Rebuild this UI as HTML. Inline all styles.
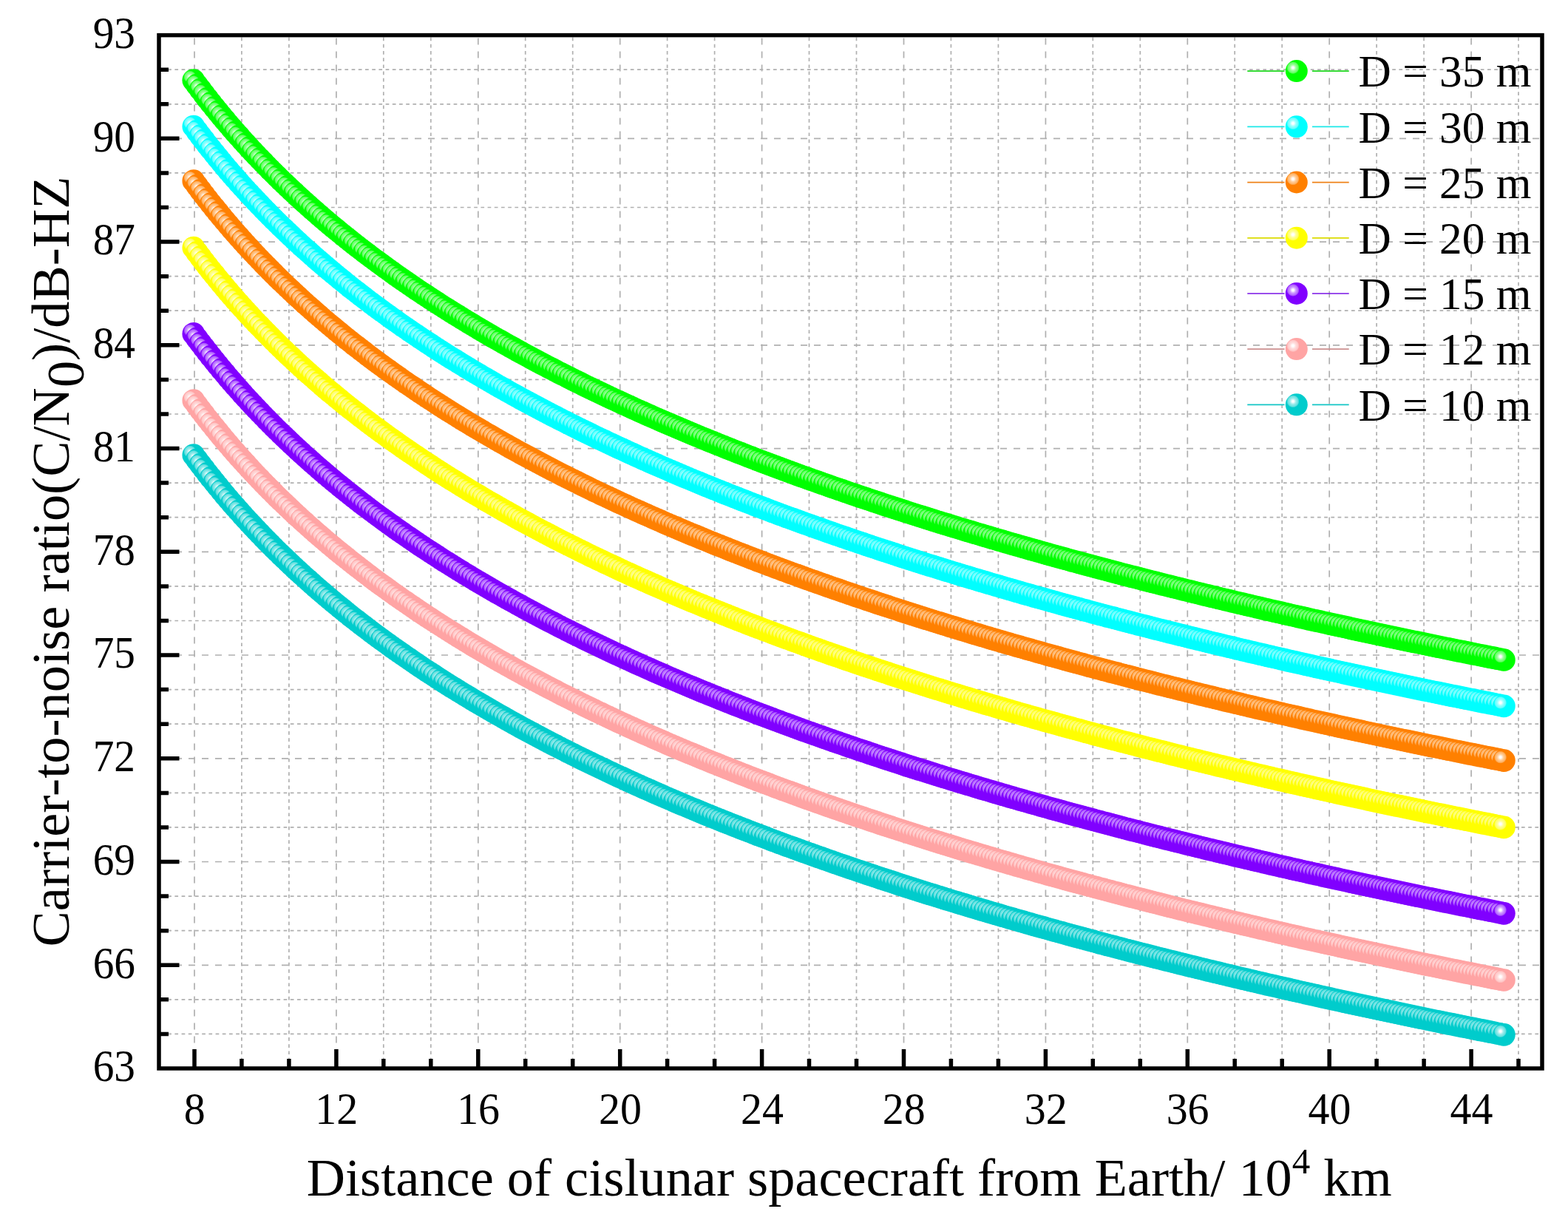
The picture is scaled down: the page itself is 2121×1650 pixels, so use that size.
<!DOCTYPE html>
<html lang="en"><head><meta charset="utf-8"><title>Carrier-to-noise ratio vs distance</title>
<style>html,body{margin:0;padding:0;background:#fff}body{width:2121px;height:1650px}svg{display:block}text{font-family:'Liberation Serif', serif;fill:#000}</style></head><body>
<svg width="2121" height="1650" viewBox="0 0 2121 1650">
<defs>
<radialGradient id="g0" gradientUnits="userSpaceOnUse" cx="-4.8" cy="-4.5" fx="-4.8" fy="-4.5" r="8.5"><stop offset="0" stop-color="#ffffff"/><stop offset="0.176" stop-color="#f7fff7"/><stop offset="0.294" stop-color="#d1ffd1"/><stop offset="0.471" stop-color="#9eff9e"/><stop offset="0.647" stop-color="#80ff80"/><stop offset="0.824" stop-color="#66ff66"/><stop offset="0.918" stop-color="#38ff38"/><stop offset="1" stop-color="#00ff00"/></radialGradient>
<circle id="m0" r="15.35" fill="url(#g0)"/>
<circle id="k0" r="15" fill="url(#g0)"/>
<radialGradient id="g1" gradientUnits="userSpaceOnUse" cx="-4.8" cy="-4.5" fx="-4.8" fy="-4.5" r="8.5"><stop offset="0" stop-color="#ffffff"/><stop offset="0.176" stop-color="#f7ffff"/><stop offset="0.294" stop-color="#d1ffff"/><stop offset="0.471" stop-color="#9effff"/><stop offset="0.647" stop-color="#80ffff"/><stop offset="0.824" stop-color="#66ffff"/><stop offset="0.918" stop-color="#38ffff"/><stop offset="1" stop-color="#00ffff"/></radialGradient>
<circle id="m1" r="15.35" fill="url(#g1)"/>
<circle id="k1" r="15" fill="url(#g1)"/>
<radialGradient id="g2" gradientUnits="userSpaceOnUse" cx="-4.8" cy="-4.5" fx="-4.8" fy="-4.5" r="8.5"><stop offset="0" stop-color="#ffffff"/><stop offset="0.176" stop-color="#fffbf7"/><stop offset="0.294" stop-color="#ffe8d1"/><stop offset="0.471" stop-color="#ffcf9e"/><stop offset="0.647" stop-color="#ffc080"/><stop offset="0.824" stop-color="#ffb366"/><stop offset="0.918" stop-color="#ff9c38"/><stop offset="1" stop-color="#ff8000"/></radialGradient>
<circle id="m2" r="15.35" fill="url(#g2)"/>
<circle id="k2" r="15" fill="url(#g2)"/>
<radialGradient id="g3" gradientUnits="userSpaceOnUse" cx="-4.8" cy="-4.5" fx="-4.8" fy="-4.5" r="8.5"><stop offset="0" stop-color="#ffffff"/><stop offset="0.176" stop-color="#fffff7"/><stop offset="0.294" stop-color="#ffffd1"/><stop offset="0.471" stop-color="#ffff9e"/><stop offset="0.647" stop-color="#ffff80"/><stop offset="0.824" stop-color="#ffff66"/><stop offset="0.918" stop-color="#ffff38"/><stop offset="1" stop-color="#ffff00"/></radialGradient>
<circle id="m3" r="15.35" fill="url(#g3)"/>
<circle id="k3" r="15" fill="url(#g3)"/>
<radialGradient id="g4" gradientUnits="userSpaceOnUse" cx="-4.8" cy="-4.5" fx="-4.8" fy="-4.5" r="8.5"><stop offset="0" stop-color="#ffffff"/><stop offset="0.176" stop-color="#fbf7ff"/><stop offset="0.294" stop-color="#e8d1ff"/><stop offset="0.471" stop-color="#cf9eff"/><stop offset="0.647" stop-color="#c080ff"/><stop offset="0.824" stop-color="#b366ff"/><stop offset="0.918" stop-color="#9c38ff"/><stop offset="1" stop-color="#8000ff"/></radialGradient>
<circle id="m4" r="15.35" fill="url(#g4)"/>
<circle id="k4" r="15" fill="url(#g4)"/>
<radialGradient id="g5" gradientUnits="userSpaceOnUse" cx="-4.8" cy="-4.5" fx="-4.8" fy="-4.5" r="8.5"><stop offset="0" stop-color="#ffffff"/><stop offset="0.176" stop-color="#fffcfc"/><stop offset="0.294" stop-color="#ffefef"/><stop offset="0.471" stop-color="#ffdcdc"/><stop offset="0.647" stop-color="#ffd2d2"/><stop offset="0.824" stop-color="#ffc8c8"/><stop offset="0.918" stop-color="#ffb8b8"/><stop offset="1" stop-color="#ffa4a4"/></radialGradient>
<circle id="m5" r="15.35" fill="url(#g5)"/>
<circle id="k5" r="15" fill="url(#g5)"/>
<radialGradient id="g6" gradientUnits="userSpaceOnUse" cx="-4.8" cy="-4.5" fx="-4.8" fy="-4.5" r="8.5"><stop offset="0" stop-color="#ffffff"/><stop offset="0.176" stop-color="#f7fdfd"/><stop offset="0.294" stop-color="#d1f6f6"/><stop offset="0.471" stop-color="#9eecec"/><stop offset="0.647" stop-color="#80e6e6"/><stop offset="0.824" stop-color="#66e0e0"/><stop offset="0.918" stop-color="#38d7d7"/><stop offset="1" stop-color="#00cccc"/></radialGradient>
<circle id="m6" r="15.35" fill="url(#g6)"/>
<circle id="k6" r="15" fill="url(#g6)"/>
</defs>
<rect width="2121" height="1650" fill="#fff"/>
<g stroke="#b0b0b0" stroke-width="1.7" fill="none">
<path stroke-dasharray="9 9" stroke-dashoffset="-4" d="M263 47.6V1445M454.9 47.6V1445M646.8 47.6V1445M838.7 47.6V1445M1030.6 47.6V1445M1222.5 47.6V1445M1414.4 47.6V1445M1606.3 47.6V1445M1798.2 47.6V1445M1990.1 47.6V1445M215 1305.3H2086M215 1165.5H2086M215 1025.8H2086M215 886H2086M215 746.3H2086M215 606.6H2086M215 466.8H2086M215 327.1H2086M215 187.3H2086"/>
<path stroke-dasharray="4.7 4.5" stroke-dashoffset="-3" d="M326.9 47.6V1445M390.9 47.6V1445M518.8 47.6V1445M582.8 47.6V1445M710.7 47.6V1445M774.7 47.6V1445M902.6 47.6V1445M966.6 47.6V1445M1094.5 47.6V1445M1158.5 47.6V1445M1286.4 47.6V1445M1350.4 47.6V1445M1478.3 47.6V1445M1542.3 47.6V1445M1670.2 47.6V1445M1734.2 47.6V1445M1862.1 47.6V1445M1926.1 47.6V1445M2054 47.6V1445M215 1398.4H2086M215 1351.8H2086M215 1258.7H2086M215 1212.1H2086M215 1118.9H2086M215 1072.4H2086M215 979.2H2086M215 932.6H2086M215 839.5H2086M215 792.9H2086M215 699.7H2086M215 653.1H2086M215 560H2086M215 513.4H2086M215 420.2H2086M215 373.7H2086M215 280.5H2086M215 233.9H2086M215 140.8H2086M215 94.2H2086"/>
</g>
<g>
<use href="#m0" x="261.8" y="108.6"/><use href="#m0" x="266.5" y="115"/><use href="#m0" x="271.2" y="121.2"/><use href="#m0" x="275.9" y="127.3"/><use href="#m0" x="280.6" y="133.4"/><use href="#m0" x="285.3" y="139.4"/><use href="#m0" x="290.1" y="145.3"/><use href="#m0" x="294.8" y="151.1"/><use href="#m0" x="299.5" y="156.8"/><use href="#m0" x="304.2" y="162.4"/><use href="#m0" x="308.9" y="168"/><use href="#m0" x="313.6" y="173.4"/><use href="#m0" x="318.3" y="178.9"/><use href="#m0" x="323.1" y="184.2"/><use href="#m0" x="327.8" y="189.5"/><use href="#m0" x="332.5" y="194.7"/><use href="#m0" x="337.2" y="199.8"/><use href="#m0" x="341.9" y="204.9"/><use href="#m0" x="346.6" y="209.9"/><use href="#m0" x="351.4" y="214.8"/><use href="#m0" x="356.1" y="219.7"/><use href="#m0" x="360.8" y="224.5"/><use href="#m0" x="365.5" y="229.3"/><use href="#m0" x="370.2" y="234"/><use href="#m0" x="374.9" y="238.7"/><use href="#m0" x="379.6" y="243.3"/><use href="#m0" x="384.4" y="247.8"/><use href="#m0" x="389.1" y="252.4"/><use href="#m0" x="393.8" y="256.8"/><use href="#m0" x="398.5" y="261.2"/><use href="#m0" x="403.2" y="265.6"/><use href="#m0" x="407.9" y="269.9"/><use href="#m0" x="412.6" y="274.2"/><use href="#m0" x="417.4" y="278.4"/><use href="#m0" x="422.1" y="282.6"/><use href="#m0" x="426.8" y="286.7"/><use href="#m0" x="431.5" y="290.8"/><use href="#m0" x="436.2" y="294.8"/><use href="#m0" x="440.9" y="298.9"/><use href="#m0" x="445.6" y="302.8"/><use href="#m0" x="450.4" y="306.8"/><use href="#m0" x="455.1" y="310.7"/><use href="#m0" x="459.8" y="314.5"/><use href="#m0" x="464.5" y="318.4"/><use href="#m0" x="469.2" y="322.1"/><use href="#m0" x="473.9" y="325.9"/><use href="#m0" x="478.6" y="329.6"/><use href="#m0" x="483.4" y="333.3"/><use href="#m0" x="488.1" y="337"/><use href="#m0" x="492.8" y="340.6"/><use href="#m0" x="497.5" y="344.2"/><use href="#m0" x="502.2" y="347.7"/><use href="#m0" x="506.9" y="351.2"/><use href="#m0" x="511.6" y="354.7"/><use href="#m0" x="516.4" y="358.2"/><use href="#m0" x="521.1" y="361.6"/><use href="#m0" x="525.8" y="365"/><use href="#m0" x="530.5" y="368.4"/><use href="#m0" x="535.2" y="371.8"/><use href="#m0" x="539.9" y="375.1"/><use href="#m0" x="544.6" y="378.4"/><use href="#m0" x="549.4" y="381.7"/><use href="#m0" x="554.1" y="384.9"/><use href="#m0" x="558.8" y="388.1"/><use href="#m0" x="563.5" y="391.3"/><use href="#m0" x="568.2" y="394.5"/><use href="#m0" x="572.9" y="397.6"/><use href="#m0" x="577.6" y="400.7"/><use href="#m0" x="582.4" y="403.8"/><use href="#m0" x="587.1" y="406.9"/><use href="#m0" x="591.8" y="409.9"/><use href="#m0" x="596.5" y="413"/><use href="#m0" x="601.2" y="416"/><use href="#m0" x="605.9" y="418.9"/><use href="#m0" x="610.6" y="421.9"/><use href="#m0" x="615.4" y="424.8"/><use href="#m0" x="620.1" y="427.7"/><use href="#m0" x="624.8" y="430.6"/><use href="#m0" x="629.5" y="433.5"/><use href="#m0" x="634.2" y="436.4"/><use href="#m0" x="638.9" y="439.2"/><use href="#m0" x="643.6" y="442"/><use href="#m0" x="648.4" y="444.8"/><use href="#m0" x="653.1" y="447.6"/><use href="#m0" x="657.8" y="450.3"/><use href="#m0" x="662.5" y="453.1"/><use href="#m0" x="667.2" y="455.8"/><use href="#m0" x="671.9" y="458.5"/><use href="#m0" x="676.7" y="461.2"/><use href="#m0" x="681.4" y="463.8"/><use href="#m0" x="686.1" y="466.5"/><use href="#m0" x="690.8" y="469.1"/><use href="#m0" x="695.5" y="471.7"/><use href="#m0" x="700.2" y="474.3"/><use href="#m0" x="704.9" y="476.9"/><use href="#m0" x="709.7" y="479.5"/><use href="#m0" x="714.4" y="482"/><use href="#m0" x="719.1" y="484.6"/><use href="#m0" x="723.8" y="487.1"/><use href="#m0" x="728.5" y="489.6"/><use href="#m0" x="733.2" y="492.1"/><use href="#m0" x="737.9" y="494.5"/><use href="#m0" x="742.7" y="497"/><use href="#m0" x="747.4" y="499.4"/><use href="#m0" x="752.1" y="501.9"/><use href="#m0" x="756.8" y="504.3"/><use href="#m0" x="761.5" y="506.7"/><use href="#m0" x="766.2" y="509"/><use href="#m0" x="770.9" y="511.4"/><use href="#m0" x="775.7" y="513.8"/><use href="#m0" x="780.4" y="516.1"/><use href="#m0" x="785.1" y="518.4"/><use href="#m0" x="789.8" y="520.8"/><use href="#m0" x="794.5" y="523.1"/><use href="#m0" x="799.2" y="525.3"/><use href="#m0" x="803.9" y="527.6"/><use href="#m0" x="808.7" y="529.9"/><use href="#m0" x="813.4" y="532.1"/><use href="#m0" x="818.1" y="534.4"/><use href="#m0" x="822.8" y="536.6"/><use href="#m0" x="827.5" y="538.8"/><use href="#m0" x="832.2" y="541"/><use href="#m0" x="836.9" y="543.2"/><use href="#m0" x="841.7" y="545.4"/><use href="#m0" x="846.4" y="547.5"/><use href="#m0" x="851.1" y="549.7"/><use href="#m0" x="855.8" y="551.8"/><use href="#m0" x="860.5" y="554"/><use href="#m0" x="865.2" y="556.1"/><use href="#m0" x="869.9" y="558.2"/><use href="#m0" x="874.7" y="560.3"/><use href="#m0" x="879.4" y="562.4"/><use href="#m0" x="884.1" y="564.5"/><use href="#m0" x="888.8" y="566.5"/><use href="#m0" x="893.5" y="568.6"/><use href="#m0" x="898.2" y="570.6"/><use href="#m0" x="902.9" y="572.7"/><use href="#m0" x="907.7" y="574.7"/><use href="#m0" x="912.4" y="576.7"/><use href="#m0" x="917.1" y="578.7"/><use href="#m0" x="921.8" y="580.7"/><use href="#m0" x="926.5" y="582.7"/><use href="#m0" x="931.2" y="584.7"/><use href="#m0" x="935.9" y="586.6"/><use href="#m0" x="940.7" y="588.6"/><use href="#m0" x="945.4" y="590.5"/><use href="#m0" x="950.1" y="592.5"/><use href="#m0" x="954.8" y="594.4"/><use href="#m0" x="959.5" y="596.3"/><use href="#m0" x="964.2" y="598.2"/><use href="#m0" x="969" y="600.1"/><use href="#m0" x="973.7" y="602"/><use href="#m0" x="978.4" y="603.9"/><use href="#m0" x="983.1" y="605.8"/><use href="#m0" x="987.8" y="607.7"/><use href="#m0" x="992.5" y="609.5"/><use href="#m0" x="997.2" y="611.4"/><use href="#m0" x="1002" y="613.2"/><use href="#m0" x="1006.7" y="615"/><use href="#m0" x="1011.4" y="616.9"/><use href="#m0" x="1016.1" y="618.7"/><use href="#m0" x="1020.8" y="620.5"/><use href="#m0" x="1025.5" y="622.3"/><use href="#m0" x="1030.2" y="624.1"/><use href="#m0" x="1035" y="625.9"/><use href="#m0" x="1039.7" y="627.6"/><use href="#m0" x="1044.4" y="629.4"/><use href="#m0" x="1049.1" y="631.2"/><use href="#m0" x="1053.8" y="632.9"/><use href="#m0" x="1058.5" y="634.7"/><use href="#m0" x="1063.2" y="636.4"/><use href="#m0" x="1068" y="638.1"/><use href="#m0" x="1072.7" y="639.9"/><use href="#m0" x="1077.4" y="641.6"/><use href="#m0" x="1082.1" y="643.3"/><use href="#m0" x="1086.8" y="645"/><use href="#m0" x="1091.5" y="646.7"/><use href="#m0" x="1096.2" y="648.4"/><use href="#m0" x="1101" y="650"/><use href="#m0" x="1105.7" y="651.7"/><use href="#m0" x="1110.4" y="653.4"/><use href="#m0" x="1115.1" y="655"/><use href="#m0" x="1119.8" y="656.7"/><use href="#m0" x="1124.5" y="658.3"/><use href="#m0" x="1129.2" y="660"/><use href="#m0" x="1134" y="661.6"/><use href="#m0" x="1138.7" y="663.2"/><use href="#m0" x="1143.4" y="664.9"/><use href="#m0" x="1148.1" y="666.5"/><use href="#m0" x="1152.8" y="668.1"/><use href="#m0" x="1157.5" y="669.7"/><use href="#m0" x="1162.2" y="671.3"/><use href="#m0" x="1167" y="672.9"/><use href="#m0" x="1171.7" y="674.4"/><use href="#m0" x="1176.4" y="676"/><use href="#m0" x="1181.1" y="677.6"/><use href="#m0" x="1185.8" y="679.1"/><use href="#m0" x="1190.5" y="680.7"/><use href="#m0" x="1195.2" y="682.3"/><use href="#m0" x="1200" y="683.8"/><use href="#m0" x="1204.7" y="685.3"/><use href="#m0" x="1209.4" y="686.9"/><use href="#m0" x="1214.1" y="688.4"/><use href="#m0" x="1218.8" y="689.9"/><use href="#m0" x="1223.5" y="691.4"/><use href="#m0" x="1228.2" y="693"/><use href="#m0" x="1233" y="694.5"/><use href="#m0" x="1237.7" y="696"/><use href="#m0" x="1242.4" y="697.5"/><use href="#m0" x="1247.1" y="698.9"/><use href="#m0" x="1251.8" y="700.4"/><use href="#m0" x="1256.5" y="701.9"/><use href="#m0" x="1261.2" y="703.4"/><use href="#m0" x="1266" y="704.8"/><use href="#m0" x="1270.7" y="706.3"/><use href="#m0" x="1275.4" y="707.8"/><use href="#m0" x="1280.1" y="709.2"/><use href="#m0" x="1284.8" y="710.7"/><use href="#m0" x="1289.5" y="712.1"/><use href="#m0" x="1294.3" y="713.5"/><use href="#m0" x="1299" y="715"/><use href="#m0" x="1303.7" y="716.4"/><use href="#m0" x="1308.4" y="717.8"/><use href="#m0" x="1313.1" y="719.2"/><use href="#m0" x="1317.8" y="720.6"/><use href="#m0" x="1322.5" y="722"/><use href="#m0" x="1327.3" y="723.4"/><use href="#m0" x="1332" y="724.8"/><use href="#m0" x="1336.7" y="726.2"/><use href="#m0" x="1341.4" y="727.6"/><use href="#m0" x="1346.1" y="729"/><use href="#m0" x="1350.8" y="730.4"/><use href="#m0" x="1355.5" y="731.7"/><use href="#m0" x="1360.3" y="733.1"/><use href="#m0" x="1365" y="734.5"/><use href="#m0" x="1369.7" y="735.8"/><use href="#m0" x="1374.4" y="737.2"/><use href="#m0" x="1379.1" y="738.5"/><use href="#m0" x="1383.8" y="739.9"/><use href="#m0" x="1388.5" y="741.2"/><use href="#m0" x="1393.3" y="742.6"/><use href="#m0" x="1398" y="743.9"/><use href="#m0" x="1402.7" y="745.2"/><use href="#m0" x="1407.4" y="746.5"/><use href="#m0" x="1412.1" y="747.9"/><use href="#m0" x="1416.8" y="749.2"/><use href="#m0" x="1421.5" y="750.5"/><use href="#m0" x="1426.3" y="751.8"/><use href="#m0" x="1431" y="753.1"/><use href="#m0" x="1435.7" y="754.4"/><use href="#m0" x="1440.4" y="755.7"/><use href="#m0" x="1445.1" y="757"/><use href="#m0" x="1449.8" y="758.3"/><use href="#m0" x="1454.5" y="759.5"/><use href="#m0" x="1459.3" y="760.8"/><use href="#m0" x="1464" y="762.1"/><use href="#m0" x="1468.7" y="763.4"/><use href="#m0" x="1473.4" y="764.6"/><use href="#m0" x="1478.1" y="765.9"/><use href="#m0" x="1482.8" y="767.1"/><use href="#m0" x="1487.5" y="768.4"/><use href="#m0" x="1492.3" y="769.7"/><use href="#m0" x="1497" y="770.9"/><use href="#m0" x="1501.7" y="772.1"/><use href="#m0" x="1506.4" y="773.4"/><use href="#m0" x="1511.1" y="774.6"/><use href="#m0" x="1515.8" y="775.8"/><use href="#m0" x="1520.5" y="777.1"/><use href="#m0" x="1525.3" y="778.3"/><use href="#m0" x="1530" y="779.5"/><use href="#m0" x="1534.7" y="780.7"/><use href="#m0" x="1539.4" y="781.9"/><use href="#m0" x="1544.1" y="783.1"/><use href="#m0" x="1548.8" y="784.4"/><use href="#m0" x="1553.5" y="785.6"/><use href="#m0" x="1558.3" y="786.8"/><use href="#m0" x="1563" y="787.9"/><use href="#m0" x="1567.7" y="789.1"/><use href="#m0" x="1572.4" y="790.3"/><use href="#m0" x="1577.1" y="791.5"/><use href="#m0" x="1581.8" y="792.7"/><use href="#m0" x="1586.5" y="793.9"/><use href="#m0" x="1591.3" y="795"/><use href="#m0" x="1596" y="796.2"/><use href="#m0" x="1600.7" y="797.4"/><use href="#m0" x="1605.4" y="798.5"/><use href="#m0" x="1610.1" y="799.7"/><use href="#m0" x="1614.8" y="800.9"/><use href="#m0" x="1619.6" y="802"/><use href="#m0" x="1624.3" y="803.2"/><use href="#m0" x="1629" y="804.3"/><use href="#m0" x="1633.7" y="805.4"/><use href="#m0" x="1638.4" y="806.6"/><use href="#m0" x="1643.1" y="807.7"/><use href="#m0" x="1647.8" y="808.9"/><use href="#m0" x="1652.6" y="810"/><use href="#m0" x="1657.3" y="811.1"/><use href="#m0" x="1662" y="812.2"/><use href="#m0" x="1666.7" y="813.4"/><use href="#m0" x="1671.4" y="814.5"/><use href="#m0" x="1676.1" y="815.6"/><use href="#m0" x="1680.8" y="816.7"/><use href="#m0" x="1685.6" y="817.8"/><use href="#m0" x="1690.3" y="818.9"/><use href="#m0" x="1695" y="820"/><use href="#m0" x="1699.7" y="821.1"/><use href="#m0" x="1704.4" y="822.2"/><use href="#m0" x="1709.1" y="823.3"/><use href="#m0" x="1713.8" y="824.4"/><use href="#m0" x="1718.6" y="825.5"/><use href="#m0" x="1723.3" y="826.6"/><use href="#m0" x="1728" y="827.7"/><use href="#m0" x="1732.7" y="828.7"/><use href="#m0" x="1737.4" y="829.8"/><use href="#m0" x="1742.1" y="830.9"/><use href="#m0" x="1746.8" y="832"/><use href="#m0" x="1751.6" y="833"/><use href="#m0" x="1756.3" y="834.1"/><use href="#m0" x="1761" y="835.2"/><use href="#m0" x="1765.7" y="836.2"/><use href="#m0" x="1770.4" y="837.3"/><use href="#m0" x="1775.1" y="838.3"/><use href="#m0" x="1779.8" y="839.4"/><use href="#m0" x="1784.6" y="840.4"/><use href="#m0" x="1789.3" y="841.5"/><use href="#m0" x="1794" y="842.5"/><use href="#m0" x="1798.7" y="843.6"/><use href="#m0" x="1803.4" y="844.6"/><use href="#m0" x="1808.1" y="845.6"/><use href="#m0" x="1812.8" y="846.7"/><use href="#m0" x="1817.6" y="847.7"/><use href="#m0" x="1822.3" y="848.7"/><use href="#m0" x="1827" y="849.8"/><use href="#m0" x="1831.7" y="850.8"/><use href="#m0" x="1836.4" y="851.8"/><use href="#m0" x="1841.1" y="852.8"/><use href="#m0" x="1845.8" y="853.8"/><use href="#m0" x="1850.6" y="854.8"/><use href="#m0" x="1855.3" y="855.8"/><use href="#m0" x="1860" y="856.9"/><use href="#m0" x="1864.7" y="857.9"/><use href="#m0" x="1869.4" y="858.9"/><use href="#m0" x="1874.1" y="859.9"/><use href="#m0" x="1878.8" y="860.9"/><use href="#m0" x="1883.6" y="861.9"/><use href="#m0" x="1888.3" y="862.8"/><use href="#m0" x="1893" y="863.8"/><use href="#m0" x="1897.7" y="864.8"/><use href="#m0" x="1902.4" y="865.8"/><use href="#m0" x="1907.1" y="866.8"/><use href="#m0" x="1911.9" y="867.8"/><use href="#m0" x="1916.6" y="868.7"/><use href="#m0" x="1921.3" y="869.7"/><use href="#m0" x="1926" y="870.7"/><use href="#m0" x="1930.7" y="871.7"/><use href="#m0" x="1935.4" y="872.6"/><use href="#m0" x="1940.1" y="873.6"/><use href="#m0" x="1944.9" y="874.6"/><use href="#m0" x="1949.6" y="875.5"/><use href="#m0" x="1954.3" y="876.5"/><use href="#m0" x="1959" y="877.4"/><use href="#m0" x="1963.7" y="878.4"/><use href="#m0" x="1968.4" y="879.3"/><use href="#m0" x="1973.1" y="880.3"/><use href="#m0" x="1977.9" y="881.2"/><use href="#m0" x="1982.6" y="882.2"/><use href="#m0" x="1987.3" y="883.1"/><use href="#m0" x="1992" y="884.1"/><use href="#m0" x="1996.7" y="885"/><use href="#m0" x="2001.4" y="886"/><use href="#m0" x="2006.1" y="886.9"/><use href="#m0" x="2010.9" y="887.8"/><use href="#m0" x="2015.6" y="888.8"/><use href="#m0" x="2020.3" y="889.7"/><use href="#m0" x="2025" y="890.6"/><use href="#m0" x="2029.7" y="891.5"/><use href="#m0" x="2034.4" y="892.5"/>
</g>
<g>
<use href="#m1" x="261.8" y="171"/><use href="#m1" x="266.5" y="177.3"/><use href="#m1" x="271.2" y="183.6"/><use href="#m1" x="275.9" y="189.7"/><use href="#m1" x="280.6" y="195.8"/><use href="#m1" x="285.3" y="201.7"/><use href="#m1" x="290.1" y="207.6"/><use href="#m1" x="294.8" y="213.4"/><use href="#m1" x="299.5" y="219.1"/><use href="#m1" x="304.2" y="224.8"/><use href="#m1" x="308.9" y="230.3"/><use href="#m1" x="313.6" y="235.8"/><use href="#m1" x="318.3" y="241.2"/><use href="#m1" x="323.1" y="246.6"/><use href="#m1" x="327.8" y="251.8"/><use href="#m1" x="332.5" y="257"/><use href="#m1" x="337.2" y="262.2"/><use href="#m1" x="341.9" y="267.2"/><use href="#m1" x="346.6" y="272.2"/><use href="#m1" x="351.4" y="277.2"/><use href="#m1" x="356.1" y="282.1"/><use href="#m1" x="360.8" y="286.9"/><use href="#m1" x="365.5" y="291.7"/><use href="#m1" x="370.2" y="296.4"/><use href="#m1" x="374.9" y="301"/><use href="#m1" x="379.6" y="305.7"/><use href="#m1" x="384.4" y="310.2"/><use href="#m1" x="389.1" y="314.7"/><use href="#m1" x="393.8" y="319.2"/><use href="#m1" x="398.5" y="323.6"/><use href="#m1" x="403.2" y="327.9"/><use href="#m1" x="407.9" y="332.3"/><use href="#m1" x="412.6" y="336.5"/><use href="#m1" x="417.4" y="340.7"/><use href="#m1" x="422.1" y="344.9"/><use href="#m1" x="426.8" y="349.1"/><use href="#m1" x="431.5" y="353.2"/><use href="#m1" x="436.2" y="357.2"/><use href="#m1" x="440.9" y="361.2"/><use href="#m1" x="445.6" y="365.2"/><use href="#m1" x="450.4" y="369.1"/><use href="#m1" x="455.1" y="373"/><use href="#m1" x="459.8" y="376.9"/><use href="#m1" x="464.5" y="380.7"/><use href="#m1" x="469.2" y="384.5"/><use href="#m1" x="473.9" y="388.3"/><use href="#m1" x="478.6" y="392"/><use href="#m1" x="483.4" y="395.7"/><use href="#m1" x="488.1" y="399.3"/><use href="#m1" x="492.8" y="402.9"/><use href="#m1" x="497.5" y="406.5"/><use href="#m1" x="502.2" y="410.1"/><use href="#m1" x="506.9" y="413.6"/><use href="#m1" x="511.6" y="417.1"/><use href="#m1" x="516.4" y="420.6"/><use href="#m1" x="521.1" y="424"/><use href="#m1" x="525.8" y="427.4"/><use href="#m1" x="530.5" y="430.8"/><use href="#m1" x="535.2" y="434.1"/><use href="#m1" x="539.9" y="437.5"/><use href="#m1" x="544.6" y="440.8"/><use href="#m1" x="549.4" y="444"/><use href="#m1" x="554.1" y="447.3"/><use href="#m1" x="558.8" y="450.5"/><use href="#m1" x="563.5" y="453.7"/><use href="#m1" x="568.2" y="456.8"/><use href="#m1" x="572.9" y="460"/><use href="#m1" x="577.6" y="463.1"/><use href="#m1" x="582.4" y="466.2"/><use href="#m1" x="587.1" y="469.3"/><use href="#m1" x="591.8" y="472.3"/><use href="#m1" x="596.5" y="475.3"/><use href="#m1" x="601.2" y="478.3"/><use href="#m1" x="605.9" y="481.3"/><use href="#m1" x="610.6" y="484.3"/><use href="#m1" x="615.4" y="487.2"/><use href="#m1" x="620.1" y="490.1"/><use href="#m1" x="624.8" y="493"/><use href="#m1" x="629.5" y="495.9"/><use href="#m1" x="634.2" y="498.7"/><use href="#m1" x="638.9" y="501.6"/><use href="#m1" x="643.6" y="504.4"/><use href="#m1" x="648.4" y="507.2"/><use href="#m1" x="653.1" y="510"/><use href="#m1" x="657.8" y="512.7"/><use href="#m1" x="662.5" y="515.4"/><use href="#m1" x="667.2" y="518.2"/><use href="#m1" x="671.9" y="520.9"/><use href="#m1" x="676.7" y="523.6"/><use href="#m1" x="681.4" y="526.2"/><use href="#m1" x="686.1" y="528.9"/><use href="#m1" x="690.8" y="531.5"/><use href="#m1" x="695.5" y="534.1"/><use href="#m1" x="700.2" y="536.7"/><use href="#m1" x="704.9" y="539.3"/><use href="#m1" x="709.7" y="541.8"/><use href="#m1" x="714.4" y="544.4"/><use href="#m1" x="719.1" y="546.9"/><use href="#m1" x="723.8" y="549.4"/><use href="#m1" x="728.5" y="551.9"/><use href="#m1" x="733.2" y="554.4"/><use href="#m1" x="737.9" y="556.9"/><use href="#m1" x="742.7" y="559.4"/><use href="#m1" x="747.4" y="561.8"/><use href="#m1" x="752.1" y="564.2"/><use href="#m1" x="756.8" y="566.6"/><use href="#m1" x="761.5" y="569"/><use href="#m1" x="766.2" y="571.4"/><use href="#m1" x="770.9" y="573.8"/><use href="#m1" x="775.7" y="576.1"/><use href="#m1" x="780.4" y="578.5"/><use href="#m1" x="785.1" y="580.8"/><use href="#m1" x="789.8" y="583.1"/><use href="#m1" x="794.5" y="585.4"/><use href="#m1" x="799.2" y="587.7"/><use href="#m1" x="803.9" y="590"/><use href="#m1" x="808.7" y="592.3"/><use href="#m1" x="813.4" y="594.5"/><use href="#m1" x="818.1" y="596.7"/><use href="#m1" x="822.8" y="599"/><use href="#m1" x="827.5" y="601.2"/><use href="#m1" x="832.2" y="603.4"/><use href="#m1" x="836.9" y="605.6"/><use href="#m1" x="841.7" y="607.7"/><use href="#m1" x="846.4" y="609.9"/><use href="#m1" x="851.1" y="612.1"/><use href="#m1" x="855.8" y="614.2"/><use href="#m1" x="860.5" y="616.3"/><use href="#m1" x="865.2" y="618.5"/><use href="#m1" x="869.9" y="620.6"/><use href="#m1" x="874.7" y="622.7"/><use href="#m1" x="879.4" y="624.8"/><use href="#m1" x="884.1" y="626.8"/><use href="#m1" x="888.8" y="628.9"/><use href="#m1" x="893.5" y="631"/><use href="#m1" x="898.2" y="633"/><use href="#m1" x="902.9" y="635"/><use href="#m1" x="907.7" y="637.1"/><use href="#m1" x="912.4" y="639.1"/><use href="#m1" x="917.1" y="641.1"/><use href="#m1" x="921.8" y="643.1"/><use href="#m1" x="926.5" y="645.1"/><use href="#m1" x="931.2" y="647"/><use href="#m1" x="935.9" y="649"/><use href="#m1" x="940.7" y="651"/><use href="#m1" x="945.4" y="652.9"/><use href="#m1" x="950.1" y="654.8"/><use href="#m1" x="954.8" y="656.8"/><use href="#m1" x="959.5" y="658.7"/><use href="#m1" x="964.2" y="660.6"/><use href="#m1" x="969" y="662.5"/><use href="#m1" x="973.7" y="664.4"/><use href="#m1" x="978.4" y="666.3"/><use href="#m1" x="983.1" y="668.2"/><use href="#m1" x="987.8" y="670"/><use href="#m1" x="992.5" y="671.9"/><use href="#m1" x="997.2" y="673.7"/><use href="#m1" x="1002" y="675.6"/><use href="#m1" x="1006.7" y="677.4"/><use href="#m1" x="1011.4" y="679.2"/><use href="#m1" x="1016.1" y="681"/><use href="#m1" x="1020.8" y="682.9"/><use href="#m1" x="1025.5" y="684.6"/><use href="#m1" x="1030.2" y="686.4"/><use href="#m1" x="1035" y="688.2"/><use href="#m1" x="1039.7" y="690"/><use href="#m1" x="1044.4" y="691.8"/><use href="#m1" x="1049.1" y="693.5"/><use href="#m1" x="1053.8" y="695.3"/><use href="#m1" x="1058.5" y="697"/><use href="#m1" x="1063.2" y="698.8"/><use href="#m1" x="1068" y="700.5"/><use href="#m1" x="1072.7" y="702.2"/><use href="#m1" x="1077.4" y="703.9"/><use href="#m1" x="1082.1" y="705.6"/><use href="#m1" x="1086.8" y="707.3"/><use href="#m1" x="1091.5" y="709"/><use href="#m1" x="1096.2" y="710.7"/><use href="#m1" x="1101" y="712.4"/><use href="#m1" x="1105.7" y="714.1"/><use href="#m1" x="1110.4" y="715.7"/><use href="#m1" x="1115.1" y="717.4"/><use href="#m1" x="1119.8" y="719.1"/><use href="#m1" x="1124.5" y="720.7"/><use href="#m1" x="1129.2" y="722.3"/><use href="#m1" x="1134" y="724"/><use href="#m1" x="1138.7" y="725.6"/><use href="#m1" x="1143.4" y="727.2"/><use href="#m1" x="1148.1" y="728.8"/><use href="#m1" x="1152.8" y="730.4"/><use href="#m1" x="1157.5" y="732"/><use href="#m1" x="1162.2" y="733.6"/><use href="#m1" x="1167" y="735.2"/><use href="#m1" x="1171.7" y="736.8"/><use href="#m1" x="1176.4" y="738.4"/><use href="#m1" x="1181.1" y="740"/><use href="#m1" x="1185.8" y="741.5"/><use href="#m1" x="1190.5" y="743.1"/><use href="#m1" x="1195.2" y="744.6"/><use href="#m1" x="1200" y="746.2"/><use href="#m1" x="1204.7" y="747.7"/><use href="#m1" x="1209.4" y="749.2"/><use href="#m1" x="1214.1" y="750.8"/><use href="#m1" x="1218.8" y="752.3"/><use href="#m1" x="1223.5" y="753.8"/><use href="#m1" x="1228.2" y="755.3"/><use href="#m1" x="1233" y="756.8"/><use href="#m1" x="1237.7" y="758.3"/><use href="#m1" x="1242.4" y="759.8"/><use href="#m1" x="1247.1" y="761.3"/><use href="#m1" x="1251.8" y="762.8"/><use href="#m1" x="1256.5" y="764.3"/><use href="#m1" x="1261.2" y="765.7"/><use href="#m1" x="1266" y="767.2"/><use href="#m1" x="1270.7" y="768.7"/><use href="#m1" x="1275.4" y="770.1"/><use href="#m1" x="1280.1" y="771.6"/><use href="#m1" x="1284.8" y="773"/><use href="#m1" x="1289.5" y="774.5"/><use href="#m1" x="1294.3" y="775.9"/><use href="#m1" x="1299" y="777.3"/><use href="#m1" x="1303.7" y="778.8"/><use href="#m1" x="1308.4" y="780.2"/><use href="#m1" x="1313.1" y="781.6"/><use href="#m1" x="1317.8" y="783"/><use href="#m1" x="1322.5" y="784.4"/><use href="#m1" x="1327.3" y="785.8"/><use href="#m1" x="1332" y="787.2"/><use href="#m1" x="1336.7" y="788.6"/><use href="#m1" x="1341.4" y="790"/><use href="#m1" x="1346.1" y="791.4"/><use href="#m1" x="1350.8" y="792.7"/><use href="#m1" x="1355.5" y="794.1"/><use href="#m1" x="1360.3" y="795.5"/><use href="#m1" x="1365" y="796.8"/><use href="#m1" x="1369.7" y="798.2"/><use href="#m1" x="1374.4" y="799.6"/><use href="#m1" x="1379.1" y="800.9"/><use href="#m1" x="1383.8" y="802.3"/><use href="#m1" x="1388.5" y="803.6"/><use href="#m1" x="1393.3" y="804.9"/><use href="#m1" x="1398" y="806.3"/><use href="#m1" x="1402.7" y="807.6"/><use href="#m1" x="1407.4" y="808.9"/><use href="#m1" x="1412.1" y="810.2"/><use href="#m1" x="1416.8" y="811.5"/><use href="#m1" x="1421.5" y="812.9"/><use href="#m1" x="1426.3" y="814.2"/><use href="#m1" x="1431" y="815.5"/><use href="#m1" x="1435.7" y="816.8"/><use href="#m1" x="1440.4" y="818.1"/><use href="#m1" x="1445.1" y="819.3"/><use href="#m1" x="1449.8" y="820.6"/><use href="#m1" x="1454.5" y="821.9"/><use href="#m1" x="1459.3" y="823.2"/><use href="#m1" x="1464" y="824.5"/><use href="#m1" x="1468.7" y="825.7"/><use href="#m1" x="1473.4" y="827"/><use href="#m1" x="1478.1" y="828.3"/><use href="#m1" x="1482.8" y="829.5"/><use href="#m1" x="1487.5" y="830.8"/><use href="#m1" x="1492.3" y="832"/><use href="#m1" x="1497" y="833.3"/><use href="#m1" x="1501.7" y="834.5"/><use href="#m1" x="1506.4" y="835.7"/><use href="#m1" x="1511.1" y="837"/><use href="#m1" x="1515.8" y="838.2"/><use href="#m1" x="1520.5" y="839.4"/><use href="#m1" x="1525.3" y="840.7"/><use href="#m1" x="1530" y="841.9"/><use href="#m1" x="1534.7" y="843.1"/><use href="#m1" x="1539.4" y="844.3"/><use href="#m1" x="1544.1" y="845.5"/><use href="#m1" x="1548.8" y="846.7"/><use href="#m1" x="1553.5" y="847.9"/><use href="#m1" x="1558.3" y="849.1"/><use href="#m1" x="1563" y="850.3"/><use href="#m1" x="1567.7" y="851.5"/><use href="#m1" x="1572.4" y="852.7"/><use href="#m1" x="1577.1" y="853.9"/><use href="#m1" x="1581.8" y="855.1"/><use href="#m1" x="1586.5" y="856.2"/><use href="#m1" x="1591.3" y="857.4"/><use href="#m1" x="1596" y="858.6"/><use href="#m1" x="1600.7" y="859.7"/><use href="#m1" x="1605.4" y="860.9"/><use href="#m1" x="1610.1" y="862.1"/><use href="#m1" x="1614.8" y="863.2"/><use href="#m1" x="1619.6" y="864.4"/><use href="#m1" x="1624.3" y="865.5"/><use href="#m1" x="1629" y="866.7"/><use href="#m1" x="1633.7" y="867.8"/><use href="#m1" x="1638.4" y="869"/><use href="#m1" x="1643.1" y="870.1"/><use href="#m1" x="1647.8" y="871.2"/><use href="#m1" x="1652.6" y="872.4"/><use href="#m1" x="1657.3" y="873.5"/><use href="#m1" x="1662" y="874.6"/><use href="#m1" x="1666.7" y="875.7"/><use href="#m1" x="1671.4" y="876.8"/><use href="#m1" x="1676.1" y="878"/><use href="#m1" x="1680.8" y="879.1"/><use href="#m1" x="1685.6" y="880.2"/><use href="#m1" x="1690.3" y="881.3"/><use href="#m1" x="1695" y="882.4"/><use href="#m1" x="1699.7" y="883.5"/><use href="#m1" x="1704.4" y="884.6"/><use href="#m1" x="1709.1" y="885.7"/><use href="#m1" x="1713.8" y="886.8"/><use href="#m1" x="1718.6" y="887.9"/><use href="#m1" x="1723.3" y="889"/><use href="#m1" x="1728" y="890"/><use href="#m1" x="1732.7" y="891.1"/><use href="#m1" x="1737.4" y="892.2"/><use href="#m1" x="1742.1" y="893.3"/><use href="#m1" x="1746.8" y="894.3"/><use href="#m1" x="1751.6" y="895.4"/><use href="#m1" x="1756.3" y="896.5"/><use href="#m1" x="1761" y="897.5"/><use href="#m1" x="1765.7" y="898.6"/><use href="#m1" x="1770.4" y="899.6"/><use href="#m1" x="1775.1" y="900.7"/><use href="#m1" x="1779.8" y="901.8"/><use href="#m1" x="1784.6" y="902.8"/><use href="#m1" x="1789.3" y="903.8"/><use href="#m1" x="1794" y="904.9"/><use href="#m1" x="1798.7" y="905.9"/><use href="#m1" x="1803.4" y="907"/><use href="#m1" x="1808.1" y="908"/><use href="#m1" x="1812.8" y="909"/><use href="#m1" x="1817.6" y="910.1"/><use href="#m1" x="1822.3" y="911.1"/><use href="#m1" x="1827" y="912.1"/><use href="#m1" x="1831.7" y="913.1"/><use href="#m1" x="1836.4" y="914.2"/><use href="#m1" x="1841.1" y="915.2"/><use href="#m1" x="1845.8" y="916.2"/><use href="#m1" x="1850.6" y="917.2"/><use href="#m1" x="1855.3" y="918.2"/><use href="#m1" x="1860" y="919.2"/><use href="#m1" x="1864.7" y="920.2"/><use href="#m1" x="1869.4" y="921.2"/><use href="#m1" x="1874.1" y="922.2"/><use href="#m1" x="1878.8" y="923.2"/><use href="#m1" x="1883.6" y="924.2"/><use href="#m1" x="1888.3" y="925.2"/><use href="#m1" x="1893" y="926.2"/><use href="#m1" x="1897.7" y="927.2"/><use href="#m1" x="1902.4" y="928.2"/><use href="#m1" x="1907.1" y="929.2"/><use href="#m1" x="1911.9" y="930.1"/><use href="#m1" x="1916.6" y="931.1"/><use href="#m1" x="1921.3" y="932.1"/><use href="#m1" x="1926" y="933.1"/><use href="#m1" x="1930.7" y="934"/><use href="#m1" x="1935.4" y="935"/><use href="#m1" x="1940.1" y="936"/><use href="#m1" x="1944.9" y="936.9"/><use href="#m1" x="1949.6" y="937.9"/><use href="#m1" x="1954.3" y="938.9"/><use href="#m1" x="1959" y="939.8"/><use href="#m1" x="1963.7" y="940.8"/><use href="#m1" x="1968.4" y="941.7"/><use href="#m1" x="1973.1" y="942.7"/><use href="#m1" x="1977.9" y="943.6"/><use href="#m1" x="1982.6" y="944.6"/><use href="#m1" x="1987.3" y="945.5"/><use href="#m1" x="1992" y="946.4"/><use href="#m1" x="1996.7" y="947.4"/><use href="#m1" x="2001.4" y="948.3"/><use href="#m1" x="2006.1" y="949.3"/><use href="#m1" x="2010.9" y="950.2"/><use href="#m1" x="2015.6" y="951.1"/><use href="#m1" x="2020.3" y="952"/><use href="#m1" x="2025" y="953"/><use href="#m1" x="2029.7" y="953.9"/><use href="#m1" x="2034.4" y="954.8"/>
</g>
<g>
<use href="#m2" x="261.8" y="244.7"/><use href="#m2" x="266.5" y="251.1"/><use href="#m2" x="271.2" y="257.3"/><use href="#m2" x="275.9" y="263.5"/><use href="#m2" x="280.6" y="269.5"/><use href="#m2" x="285.3" y="275.5"/><use href="#m2" x="290.1" y="281.4"/><use href="#m2" x="294.8" y="287.2"/><use href="#m2" x="299.5" y="292.9"/><use href="#m2" x="304.2" y="298.5"/><use href="#m2" x="308.9" y="304.1"/><use href="#m2" x="313.6" y="309.6"/><use href="#m2" x="318.3" y="315"/><use href="#m2" x="323.1" y="320.3"/><use href="#m2" x="327.8" y="325.6"/><use href="#m2" x="332.5" y="330.8"/><use href="#m2" x="337.2" y="335.9"/><use href="#m2" x="341.9" y="341"/><use href="#m2" x="346.6" y="346"/><use href="#m2" x="351.4" y="351"/><use href="#m2" x="356.1" y="355.8"/><use href="#m2" x="360.8" y="360.7"/><use href="#m2" x="365.5" y="365.4"/><use href="#m2" x="370.2" y="370.2"/><use href="#m2" x="374.9" y="374.8"/><use href="#m2" x="379.6" y="379.4"/><use href="#m2" x="384.4" y="384"/><use href="#m2" x="389.1" y="388.5"/><use href="#m2" x="393.8" y="392.9"/><use href="#m2" x="398.5" y="397.3"/><use href="#m2" x="403.2" y="401.7"/><use href="#m2" x="407.9" y="406"/><use href="#m2" x="412.6" y="410.3"/><use href="#m2" x="417.4" y="414.5"/><use href="#m2" x="422.1" y="418.7"/><use href="#m2" x="426.8" y="422.8"/><use href="#m2" x="431.5" y="426.9"/><use href="#m2" x="436.2" y="431"/><use href="#m2" x="440.9" y="435"/><use href="#m2" x="445.6" y="439"/><use href="#m2" x="450.4" y="442.9"/><use href="#m2" x="455.1" y="446.8"/><use href="#m2" x="459.8" y="450.7"/><use href="#m2" x="464.5" y="454.5"/><use href="#m2" x="469.2" y="458.3"/><use href="#m2" x="473.9" y="462"/><use href="#m2" x="478.6" y="465.8"/><use href="#m2" x="483.4" y="469.4"/><use href="#m2" x="488.1" y="473.1"/><use href="#m2" x="492.8" y="476.7"/><use href="#m2" x="497.5" y="480.3"/><use href="#m2" x="502.2" y="483.8"/><use href="#m2" x="506.9" y="487.4"/><use href="#m2" x="511.6" y="490.9"/><use href="#m2" x="516.4" y="494.3"/><use href="#m2" x="521.1" y="497.8"/><use href="#m2" x="525.8" y="501.2"/><use href="#m2" x="530.5" y="504.5"/><use href="#m2" x="535.2" y="507.9"/><use href="#m2" x="539.9" y="511.2"/><use href="#m2" x="544.6" y="514.5"/><use href="#m2" x="549.4" y="517.8"/><use href="#m2" x="554.1" y="521"/><use href="#m2" x="558.8" y="524.2"/><use href="#m2" x="563.5" y="527.4"/><use href="#m2" x="568.2" y="530.6"/><use href="#m2" x="572.9" y="533.7"/><use href="#m2" x="577.6" y="536.9"/><use href="#m2" x="582.4" y="540"/><use href="#m2" x="587.1" y="543"/><use href="#m2" x="591.8" y="546.1"/><use href="#m2" x="596.5" y="549.1"/><use href="#m2" x="601.2" y="552.1"/><use href="#m2" x="605.9" y="555.1"/><use href="#m2" x="610.6" y="558"/><use href="#m2" x="615.4" y="561"/><use href="#m2" x="620.1" y="563.9"/><use href="#m2" x="624.8" y="566.8"/><use href="#m2" x="629.5" y="569.6"/><use href="#m2" x="634.2" y="572.5"/><use href="#m2" x="638.9" y="575.3"/><use href="#m2" x="643.6" y="578.1"/><use href="#m2" x="648.4" y="580.9"/><use href="#m2" x="653.1" y="583.7"/><use href="#m2" x="657.8" y="586.5"/><use href="#m2" x="662.5" y="589.2"/><use href="#m2" x="667.2" y="591.9"/><use href="#m2" x="671.9" y="594.6"/><use href="#m2" x="676.7" y="597.3"/><use href="#m2" x="681.4" y="600"/><use href="#m2" x="686.1" y="602.6"/><use href="#m2" x="690.8" y="605.3"/><use href="#m2" x="695.5" y="607.9"/><use href="#m2" x="700.2" y="610.5"/><use href="#m2" x="704.9" y="613.1"/><use href="#m2" x="709.7" y="615.6"/><use href="#m2" x="714.4" y="618.2"/><use href="#m2" x="719.1" y="620.7"/><use href="#m2" x="723.8" y="623.2"/><use href="#m2" x="728.5" y="625.7"/><use href="#m2" x="733.2" y="628.2"/><use href="#m2" x="737.9" y="630.7"/><use href="#m2" x="742.7" y="633.1"/><use href="#m2" x="747.4" y="635.6"/><use href="#m2" x="752.1" y="638"/><use href="#m2" x="756.8" y="640.4"/><use href="#m2" x="761.5" y="642.8"/><use href="#m2" x="766.2" y="645.2"/><use href="#m2" x="770.9" y="647.5"/><use href="#m2" x="775.7" y="649.9"/><use href="#m2" x="780.4" y="652.2"/><use href="#m2" x="785.1" y="654.6"/><use href="#m2" x="789.8" y="656.9"/><use href="#m2" x="794.5" y="659.2"/><use href="#m2" x="799.2" y="661.5"/><use href="#m2" x="803.9" y="663.8"/><use href="#m2" x="808.7" y="666"/><use href="#m2" x="813.4" y="668.3"/><use href="#m2" x="818.1" y="670.5"/><use href="#m2" x="822.8" y="672.7"/><use href="#m2" x="827.5" y="674.9"/><use href="#m2" x="832.2" y="677.1"/><use href="#m2" x="836.9" y="679.3"/><use href="#m2" x="841.7" y="681.5"/><use href="#m2" x="846.4" y="683.7"/><use href="#m2" x="851.1" y="685.8"/><use href="#m2" x="855.8" y="688"/><use href="#m2" x="860.5" y="690.1"/><use href="#m2" x="865.2" y="692.2"/><use href="#m2" x="869.9" y="694.3"/><use href="#m2" x="874.7" y="696.4"/><use href="#m2" x="879.4" y="698.5"/><use href="#m2" x="884.1" y="700.6"/><use href="#m2" x="888.8" y="702.7"/><use href="#m2" x="893.5" y="704.7"/><use href="#m2" x="898.2" y="706.8"/><use href="#m2" x="902.9" y="708.8"/><use href="#m2" x="907.7" y="710.8"/><use href="#m2" x="912.4" y="712.8"/><use href="#m2" x="917.1" y="714.8"/><use href="#m2" x="921.8" y="716.8"/><use href="#m2" x="926.5" y="718.8"/><use href="#m2" x="931.2" y="720.8"/><use href="#m2" x="935.9" y="722.8"/><use href="#m2" x="940.7" y="724.7"/><use href="#m2" x="945.4" y="726.7"/><use href="#m2" x="950.1" y="728.6"/><use href="#m2" x="954.8" y="730.5"/><use href="#m2" x="959.5" y="732.5"/><use href="#m2" x="964.2" y="734.4"/><use href="#m2" x="969" y="736.3"/><use href="#m2" x="973.7" y="738.2"/><use href="#m2" x="978.4" y="740"/><use href="#m2" x="983.1" y="741.9"/><use href="#m2" x="987.8" y="743.8"/><use href="#m2" x="992.5" y="745.6"/><use href="#m2" x="997.2" y="747.5"/><use href="#m2" x="1002" y="749.3"/><use href="#m2" x="1006.7" y="751.2"/><use href="#m2" x="1011.4" y="753"/><use href="#m2" x="1016.1" y="754.8"/><use href="#m2" x="1020.8" y="756.6"/><use href="#m2" x="1025.5" y="758.4"/><use href="#m2" x="1030.2" y="760.2"/><use href="#m2" x="1035" y="762"/><use href="#m2" x="1039.7" y="763.8"/><use href="#m2" x="1044.4" y="765.5"/><use href="#m2" x="1049.1" y="767.3"/><use href="#m2" x="1053.8" y="769"/><use href="#m2" x="1058.5" y="770.8"/><use href="#m2" x="1063.2" y="772.5"/><use href="#m2" x="1068" y="774.3"/><use href="#m2" x="1072.7" y="776"/><use href="#m2" x="1077.4" y="777.7"/><use href="#m2" x="1082.1" y="779.4"/><use href="#m2" x="1086.8" y="781.1"/><use href="#m2" x="1091.5" y="782.8"/><use href="#m2" x="1096.2" y="784.5"/><use href="#m2" x="1101" y="786.2"/><use href="#m2" x="1105.7" y="787.8"/><use href="#m2" x="1110.4" y="789.5"/><use href="#m2" x="1115.1" y="791.2"/><use href="#m2" x="1119.8" y="792.8"/><use href="#m2" x="1124.5" y="794.5"/><use href="#m2" x="1129.2" y="796.1"/><use href="#m2" x="1134" y="797.7"/><use href="#m2" x="1138.7" y="799.4"/><use href="#m2" x="1143.4" y="801"/><use href="#m2" x="1148.1" y="802.6"/><use href="#m2" x="1152.8" y="804.2"/><use href="#m2" x="1157.5" y="805.8"/><use href="#m2" x="1162.2" y="807.4"/><use href="#m2" x="1167" y="809"/><use href="#m2" x="1171.7" y="810.6"/><use href="#m2" x="1176.4" y="812.1"/><use href="#m2" x="1181.1" y="813.7"/><use href="#m2" x="1185.8" y="815.3"/><use href="#m2" x="1190.5" y="816.8"/><use href="#m2" x="1195.2" y="818.4"/><use href="#m2" x="1200" y="819.9"/><use href="#m2" x="1204.7" y="821.5"/><use href="#m2" x="1209.4" y="823"/><use href="#m2" x="1214.1" y="824.5"/><use href="#m2" x="1218.8" y="826.1"/><use href="#m2" x="1223.5" y="827.6"/><use href="#m2" x="1228.2" y="829.1"/><use href="#m2" x="1233" y="830.6"/><use href="#m2" x="1237.7" y="832.1"/><use href="#m2" x="1242.4" y="833.6"/><use href="#m2" x="1247.1" y="835.1"/><use href="#m2" x="1251.8" y="836.6"/><use href="#m2" x="1256.5" y="838"/><use href="#m2" x="1261.2" y="839.5"/><use href="#m2" x="1266" y="841"/><use href="#m2" x="1270.7" y="842.4"/><use href="#m2" x="1275.4" y="843.9"/><use href="#m2" x="1280.1" y="845.3"/><use href="#m2" x="1284.8" y="846.8"/><use href="#m2" x="1289.5" y="848.2"/><use href="#m2" x="1294.3" y="849.7"/><use href="#m2" x="1299" y="851.1"/><use href="#m2" x="1303.7" y="852.5"/><use href="#m2" x="1308.4" y="853.9"/><use href="#m2" x="1313.1" y="855.4"/><use href="#m2" x="1317.8" y="856.8"/><use href="#m2" x="1322.5" y="858.2"/><use href="#m2" x="1327.3" y="859.6"/><use href="#m2" x="1332" y="861"/><use href="#m2" x="1336.7" y="862.4"/><use href="#m2" x="1341.4" y="863.8"/><use href="#m2" x="1346.1" y="865.1"/><use href="#m2" x="1350.8" y="866.5"/><use href="#m2" x="1355.5" y="867.9"/><use href="#m2" x="1360.3" y="869.3"/><use href="#m2" x="1365" y="870.6"/><use href="#m2" x="1369.7" y="872"/><use href="#m2" x="1374.4" y="873.3"/><use href="#m2" x="1379.1" y="874.7"/><use href="#m2" x="1383.8" y="876"/><use href="#m2" x="1388.5" y="877.4"/><use href="#m2" x="1393.3" y="878.7"/><use href="#m2" x="1398" y="880"/><use href="#m2" x="1402.7" y="881.4"/><use href="#m2" x="1407.4" y="882.7"/><use href="#m2" x="1412.1" y="884"/><use href="#m2" x="1416.8" y="885.3"/><use href="#m2" x="1421.5" y="886.6"/><use href="#m2" x="1426.3" y="887.9"/><use href="#m2" x="1431" y="889.2"/><use href="#m2" x="1435.7" y="890.5"/><use href="#m2" x="1440.4" y="891.8"/><use href="#m2" x="1445.1" y="893.1"/><use href="#m2" x="1449.8" y="894.4"/><use href="#m2" x="1454.5" y="895.7"/><use href="#m2" x="1459.3" y="897"/><use href="#m2" x="1464" y="898.2"/><use href="#m2" x="1468.7" y="899.5"/><use href="#m2" x="1473.4" y="900.8"/><use href="#m2" x="1478.1" y="902"/><use href="#m2" x="1482.8" y="903.3"/><use href="#m2" x="1487.5" y="904.5"/><use href="#m2" x="1492.3" y="905.8"/><use href="#m2" x="1497" y="907"/><use href="#m2" x="1501.7" y="908.3"/><use href="#m2" x="1506.4" y="909.5"/><use href="#m2" x="1511.1" y="910.7"/><use href="#m2" x="1515.8" y="912"/><use href="#m2" x="1520.5" y="913.2"/><use href="#m2" x="1525.3" y="914.4"/><use href="#m2" x="1530" y="915.6"/><use href="#m2" x="1534.7" y="916.9"/><use href="#m2" x="1539.4" y="918.1"/><use href="#m2" x="1544.1" y="919.3"/><use href="#m2" x="1548.8" y="920.5"/><use href="#m2" x="1553.5" y="921.7"/><use href="#m2" x="1558.3" y="922.9"/><use href="#m2" x="1563" y="924.1"/><use href="#m2" x="1567.7" y="925.3"/><use href="#m2" x="1572.4" y="926.5"/><use href="#m2" x="1577.1" y="927.6"/><use href="#m2" x="1581.8" y="928.8"/><use href="#m2" x="1586.5" y="930"/><use href="#m2" x="1591.3" y="931.2"/><use href="#m2" x="1596" y="932.3"/><use href="#m2" x="1600.7" y="933.5"/><use href="#m2" x="1605.4" y="934.7"/><use href="#m2" x="1610.1" y="935.8"/><use href="#m2" x="1614.8" y="937"/><use href="#m2" x="1619.6" y="938.1"/><use href="#m2" x="1624.3" y="939.3"/><use href="#m2" x="1629" y="940.4"/><use href="#m2" x="1633.7" y="941.6"/><use href="#m2" x="1638.4" y="942.7"/><use href="#m2" x="1643.1" y="943.9"/><use href="#m2" x="1647.8" y="945"/><use href="#m2" x="1652.6" y="946.1"/><use href="#m2" x="1657.3" y="947.3"/><use href="#m2" x="1662" y="948.4"/><use href="#m2" x="1666.7" y="949.5"/><use href="#m2" x="1671.4" y="950.6"/><use href="#m2" x="1676.1" y="951.7"/><use href="#m2" x="1680.8" y="952.8"/><use href="#m2" x="1685.6" y="954"/><use href="#m2" x="1690.3" y="955.1"/><use href="#m2" x="1695" y="956.2"/><use href="#m2" x="1699.7" y="957.3"/><use href="#m2" x="1704.4" y="958.4"/><use href="#m2" x="1709.1" y="959.5"/><use href="#m2" x="1713.8" y="960.5"/><use href="#m2" x="1718.6" y="961.6"/><use href="#m2" x="1723.3" y="962.7"/><use href="#m2" x="1728" y="963.8"/><use href="#m2" x="1732.7" y="964.9"/><use href="#m2" x="1737.4" y="966"/><use href="#m2" x="1742.1" y="967"/><use href="#m2" x="1746.8" y="968.1"/><use href="#m2" x="1751.6" y="969.2"/><use href="#m2" x="1756.3" y="970.2"/><use href="#m2" x="1761" y="971.3"/><use href="#m2" x="1765.7" y="972.4"/><use href="#m2" x="1770.4" y="973.4"/><use href="#m2" x="1775.1" y="974.5"/><use href="#m2" x="1779.8" y="975.5"/><use href="#m2" x="1784.6" y="976.6"/><use href="#m2" x="1789.3" y="977.6"/><use href="#m2" x="1794" y="978.7"/><use href="#m2" x="1798.7" y="979.7"/><use href="#m2" x="1803.4" y="980.7"/><use href="#m2" x="1808.1" y="981.8"/><use href="#m2" x="1812.8" y="982.8"/><use href="#m2" x="1817.6" y="983.8"/><use href="#m2" x="1822.3" y="984.9"/><use href="#m2" x="1827" y="985.9"/><use href="#m2" x="1831.7" y="986.9"/><use href="#m2" x="1836.4" y="987.9"/><use href="#m2" x="1841.1" y="988.9"/><use href="#m2" x="1845.8" y="990"/><use href="#m2" x="1850.6" y="991"/><use href="#m2" x="1855.3" y="992"/><use href="#m2" x="1860" y="993"/><use href="#m2" x="1864.7" y="994"/><use href="#m2" x="1869.4" y="995"/><use href="#m2" x="1874.1" y="996"/><use href="#m2" x="1878.8" y="997"/><use href="#m2" x="1883.6" y="998"/><use href="#m2" x="1888.3" y="999"/><use href="#m2" x="1893" y="1000"/><use href="#m2" x="1897.7" y="1001"/><use href="#m2" x="1902.4" y="1001.9"/><use href="#m2" x="1907.1" y="1002.9"/><use href="#m2" x="1911.9" y="1003.9"/><use href="#m2" x="1916.6" y="1004.9"/><use href="#m2" x="1921.3" y="1005.9"/><use href="#m2" x="1926" y="1006.8"/><use href="#m2" x="1930.7" y="1007.8"/><use href="#m2" x="1935.4" y="1008.8"/><use href="#m2" x="1940.1" y="1009.7"/><use href="#m2" x="1944.9" y="1010.7"/><use href="#m2" x="1949.6" y="1011.7"/><use href="#m2" x="1954.3" y="1012.6"/><use href="#m2" x="1959" y="1013.6"/><use href="#m2" x="1963.7" y="1014.5"/><use href="#m2" x="1968.4" y="1015.5"/><use href="#m2" x="1973.1" y="1016.4"/><use href="#m2" x="1977.9" y="1017.4"/><use href="#m2" x="1982.6" y="1018.3"/><use href="#m2" x="1987.3" y="1019.3"/><use href="#m2" x="1992" y="1020.2"/><use href="#m2" x="1996.7" y="1021.1"/><use href="#m2" x="2001.4" y="1022.1"/><use href="#m2" x="2006.1" y="1023"/><use href="#m2" x="2010.9" y="1024"/><use href="#m2" x="2015.6" y="1024.9"/><use href="#m2" x="2020.3" y="1025.8"/><use href="#m2" x="2025" y="1026.7"/><use href="#m2" x="2029.7" y="1027.7"/><use href="#m2" x="2034.4" y="1028.6"/>
</g>
<g>
<use href="#m3" x="261.8" y="335"/><use href="#m3" x="266.5" y="341.4"/><use href="#m3" x="271.2" y="347.6"/><use href="#m3" x="275.9" y="353.8"/><use href="#m3" x="280.6" y="359.8"/><use href="#m3" x="285.3" y="365.8"/><use href="#m3" x="290.1" y="371.7"/><use href="#m3" x="294.8" y="377.5"/><use href="#m3" x="299.5" y="383.2"/><use href="#m3" x="304.2" y="388.8"/><use href="#m3" x="308.9" y="394.4"/><use href="#m3" x="313.6" y="399.9"/><use href="#m3" x="318.3" y="405.3"/><use href="#m3" x="323.1" y="410.6"/><use href="#m3" x="327.8" y="415.9"/><use href="#m3" x="332.5" y="421.1"/><use href="#m3" x="337.2" y="426.2"/><use href="#m3" x="341.9" y="431.3"/><use href="#m3" x="346.6" y="436.3"/><use href="#m3" x="351.4" y="441.2"/><use href="#m3" x="356.1" y="446.1"/><use href="#m3" x="360.8" y="450.9"/><use href="#m3" x="365.5" y="455.7"/><use href="#m3" x="370.2" y="460.4"/><use href="#m3" x="374.9" y="465.1"/><use href="#m3" x="379.6" y="469.7"/><use href="#m3" x="384.4" y="474.3"/><use href="#m3" x="389.1" y="478.8"/><use href="#m3" x="393.8" y="483.2"/><use href="#m3" x="398.5" y="487.6"/><use href="#m3" x="403.2" y="492"/><use href="#m3" x="407.9" y="496.3"/><use href="#m3" x="412.6" y="500.6"/><use href="#m3" x="417.4" y="504.8"/><use href="#m3" x="422.1" y="509"/><use href="#m3" x="426.8" y="513.1"/><use href="#m3" x="431.5" y="517.2"/><use href="#m3" x="436.2" y="521.3"/><use href="#m3" x="440.9" y="525.3"/><use href="#m3" x="445.6" y="529.3"/><use href="#m3" x="450.4" y="533.2"/><use href="#m3" x="455.1" y="537.1"/><use href="#m3" x="459.8" y="540.9"/><use href="#m3" x="464.5" y="544.8"/><use href="#m3" x="469.2" y="548.6"/><use href="#m3" x="473.9" y="552.3"/><use href="#m3" x="478.6" y="556"/><use href="#m3" x="483.4" y="559.7"/><use href="#m3" x="488.1" y="563.4"/><use href="#m3" x="492.8" y="567"/><use href="#m3" x="497.5" y="570.6"/><use href="#m3" x="502.2" y="574.1"/><use href="#m3" x="506.9" y="577.7"/><use href="#m3" x="511.6" y="581.1"/><use href="#m3" x="516.4" y="584.6"/><use href="#m3" x="521.1" y="588"/><use href="#m3" x="525.8" y="591.5"/><use href="#m3" x="530.5" y="594.8"/><use href="#m3" x="535.2" y="598.2"/><use href="#m3" x="539.9" y="601.5"/><use href="#m3" x="544.6" y="604.8"/><use href="#m3" x="549.4" y="608.1"/><use href="#m3" x="554.1" y="611.3"/><use href="#m3" x="558.8" y="614.5"/><use href="#m3" x="563.5" y="617.7"/><use href="#m3" x="568.2" y="620.9"/><use href="#m3" x="572.9" y="624"/><use href="#m3" x="577.6" y="627.1"/><use href="#m3" x="582.4" y="630.2"/><use href="#m3" x="587.1" y="633.3"/><use href="#m3" x="591.8" y="636.3"/><use href="#m3" x="596.5" y="639.4"/><use href="#m3" x="601.2" y="642.4"/><use href="#m3" x="605.9" y="645.4"/><use href="#m3" x="610.6" y="648.3"/><use href="#m3" x="615.4" y="651.2"/><use href="#m3" x="620.1" y="654.2"/><use href="#m3" x="624.8" y="657.1"/><use href="#m3" x="629.5" y="659.9"/><use href="#m3" x="634.2" y="662.8"/><use href="#m3" x="638.9" y="665.6"/><use href="#m3" x="643.6" y="668.4"/><use href="#m3" x="648.4" y="671.2"/><use href="#m3" x="653.1" y="674"/><use href="#m3" x="657.8" y="676.8"/><use href="#m3" x="662.5" y="679.5"/><use href="#m3" x="667.2" y="682.2"/><use href="#m3" x="671.9" y="684.9"/><use href="#m3" x="676.7" y="687.6"/><use href="#m3" x="681.4" y="690.3"/><use href="#m3" x="686.1" y="692.9"/><use href="#m3" x="690.8" y="695.5"/><use href="#m3" x="695.5" y="698.2"/><use href="#m3" x="700.2" y="700.8"/><use href="#m3" x="704.9" y="703.3"/><use href="#m3" x="709.7" y="705.9"/><use href="#m3" x="714.4" y="708.4"/><use href="#m3" x="719.1" y="711"/><use href="#m3" x="723.8" y="713.5"/><use href="#m3" x="728.5" y="716"/><use href="#m3" x="733.2" y="718.5"/><use href="#m3" x="737.9" y="720.9"/><use href="#m3" x="742.7" y="723.4"/><use href="#m3" x="747.4" y="725.8"/><use href="#m3" x="752.1" y="728.3"/><use href="#m3" x="756.8" y="730.7"/><use href="#m3" x="761.5" y="733.1"/><use href="#m3" x="766.2" y="735.5"/><use href="#m3" x="770.9" y="737.8"/><use href="#m3" x="775.7" y="740.2"/><use href="#m3" x="780.4" y="742.5"/><use href="#m3" x="785.1" y="744.9"/><use href="#m3" x="789.8" y="747.2"/><use href="#m3" x="794.5" y="749.5"/><use href="#m3" x="799.2" y="751.8"/><use href="#m3" x="803.9" y="754"/><use href="#m3" x="808.7" y="756.3"/><use href="#m3" x="813.4" y="758.5"/><use href="#m3" x="818.1" y="760.8"/><use href="#m3" x="822.8" y="763"/><use href="#m3" x="827.5" y="765.2"/><use href="#m3" x="832.2" y="767.4"/><use href="#m3" x="836.9" y="769.6"/><use href="#m3" x="841.7" y="771.8"/><use href="#m3" x="846.4" y="774"/><use href="#m3" x="851.1" y="776.1"/><use href="#m3" x="855.8" y="778.3"/><use href="#m3" x="860.5" y="780.4"/><use href="#m3" x="865.2" y="782.5"/><use href="#m3" x="869.9" y="784.6"/><use href="#m3" x="874.7" y="786.7"/><use href="#m3" x="879.4" y="788.8"/><use href="#m3" x="884.1" y="790.9"/><use href="#m3" x="888.8" y="792.9"/><use href="#m3" x="893.5" y="795"/><use href="#m3" x="898.2" y="797"/><use href="#m3" x="902.9" y="799.1"/><use href="#m3" x="907.7" y="801.1"/><use href="#m3" x="912.4" y="803.1"/><use href="#m3" x="917.1" y="805.1"/><use href="#m3" x="921.8" y="807.1"/><use href="#m3" x="926.5" y="809.1"/><use href="#m3" x="931.2" y="811.1"/><use href="#m3" x="935.9" y="813.1"/><use href="#m3" x="940.7" y="815"/><use href="#m3" x="945.4" y="817"/><use href="#m3" x="950.1" y="818.9"/><use href="#m3" x="954.8" y="820.8"/><use href="#m3" x="959.5" y="822.7"/><use href="#m3" x="964.2" y="824.7"/><use href="#m3" x="969" y="826.6"/><use href="#m3" x="973.7" y="828.4"/><use href="#m3" x="978.4" y="830.3"/><use href="#m3" x="983.1" y="832.2"/><use href="#m3" x="987.8" y="834.1"/><use href="#m3" x="992.5" y="835.9"/><use href="#m3" x="997.2" y="837.8"/><use href="#m3" x="1002" y="839.6"/><use href="#m3" x="1006.7" y="841.4"/><use href="#m3" x="1011.4" y="843.3"/><use href="#m3" x="1016.1" y="845.1"/><use href="#m3" x="1020.8" y="846.9"/><use href="#m3" x="1025.5" y="848.7"/><use href="#m3" x="1030.2" y="850.5"/><use href="#m3" x="1035" y="852.3"/><use href="#m3" x="1039.7" y="854"/><use href="#m3" x="1044.4" y="855.8"/><use href="#m3" x="1049.1" y="857.6"/><use href="#m3" x="1053.8" y="859.3"/><use href="#m3" x="1058.5" y="861.1"/><use href="#m3" x="1063.2" y="862.8"/><use href="#m3" x="1068" y="864.5"/><use href="#m3" x="1072.7" y="866.3"/><use href="#m3" x="1077.4" y="868"/><use href="#m3" x="1082.1" y="869.7"/><use href="#m3" x="1086.8" y="871.4"/><use href="#m3" x="1091.5" y="873.1"/><use href="#m3" x="1096.2" y="874.8"/><use href="#m3" x="1101" y="876.5"/><use href="#m3" x="1105.7" y="878.1"/><use href="#m3" x="1110.4" y="879.8"/><use href="#m3" x="1115.1" y="881.5"/><use href="#m3" x="1119.8" y="883.1"/><use href="#m3" x="1124.5" y="884.8"/><use href="#m3" x="1129.2" y="886.4"/><use href="#m3" x="1134" y="888"/><use href="#m3" x="1138.7" y="889.7"/><use href="#m3" x="1143.4" y="891.3"/><use href="#m3" x="1148.1" y="892.9"/><use href="#m3" x="1152.8" y="894.5"/><use href="#m3" x="1157.5" y="896.1"/><use href="#m3" x="1162.2" y="897.7"/><use href="#m3" x="1167" y="899.3"/><use href="#m3" x="1171.7" y="900.9"/><use href="#m3" x="1176.4" y="902.4"/><use href="#m3" x="1181.1" y="904"/><use href="#m3" x="1185.8" y="905.6"/><use href="#m3" x="1190.5" y="907.1"/><use href="#m3" x="1195.2" y="908.7"/><use href="#m3" x="1200" y="910.2"/><use href="#m3" x="1204.7" y="911.8"/><use href="#m3" x="1209.4" y="913.3"/><use href="#m3" x="1214.1" y="914.8"/><use href="#m3" x="1218.8" y="916.3"/><use href="#m3" x="1223.5" y="917.9"/><use href="#m3" x="1228.2" y="919.4"/><use href="#m3" x="1233" y="920.9"/><use href="#m3" x="1237.7" y="922.4"/><use href="#m3" x="1242.4" y="923.9"/><use href="#m3" x="1247.1" y="925.4"/><use href="#m3" x="1251.8" y="926.8"/><use href="#m3" x="1256.5" y="928.3"/><use href="#m3" x="1261.2" y="929.8"/><use href="#m3" x="1266" y="931.3"/><use href="#m3" x="1270.7" y="932.7"/><use href="#m3" x="1275.4" y="934.2"/><use href="#m3" x="1280.1" y="935.6"/><use href="#m3" x="1284.8" y="937.1"/><use href="#m3" x="1289.5" y="938.5"/><use href="#m3" x="1294.3" y="939.9"/><use href="#m3" x="1299" y="941.4"/><use href="#m3" x="1303.7" y="942.8"/><use href="#m3" x="1308.4" y="944.2"/><use href="#m3" x="1313.1" y="945.6"/><use href="#m3" x="1317.8" y="947.1"/><use href="#m3" x="1322.5" y="948.5"/><use href="#m3" x="1327.3" y="949.9"/><use href="#m3" x="1332" y="951.3"/><use href="#m3" x="1336.7" y="952.6"/><use href="#m3" x="1341.4" y="954"/><use href="#m3" x="1346.1" y="955.4"/><use href="#m3" x="1350.8" y="956.8"/><use href="#m3" x="1355.5" y="958.2"/><use href="#m3" x="1360.3" y="959.5"/><use href="#m3" x="1365" y="960.9"/><use href="#m3" x="1369.7" y="962.3"/><use href="#m3" x="1374.4" y="963.6"/><use href="#m3" x="1379.1" y="965"/><use href="#m3" x="1383.8" y="966.3"/><use href="#m3" x="1388.5" y="967.6"/><use href="#m3" x="1393.3" y="969"/><use href="#m3" x="1398" y="970.3"/><use href="#m3" x="1402.7" y="971.6"/><use href="#m3" x="1407.4" y="973"/><use href="#m3" x="1412.1" y="974.3"/><use href="#m3" x="1416.8" y="975.6"/><use href="#m3" x="1421.5" y="976.9"/><use href="#m3" x="1426.3" y="978.2"/><use href="#m3" x="1431" y="979.5"/><use href="#m3" x="1435.7" y="980.8"/><use href="#m3" x="1440.4" y="982.1"/><use href="#m3" x="1445.1" y="983.4"/><use href="#m3" x="1449.8" y="984.7"/><use href="#m3" x="1454.5" y="986"/><use href="#m3" x="1459.3" y="987.2"/><use href="#m3" x="1464" y="988.5"/><use href="#m3" x="1468.7" y="989.8"/><use href="#m3" x="1473.4" y="991"/><use href="#m3" x="1478.1" y="992.3"/><use href="#m3" x="1482.8" y="993.6"/><use href="#m3" x="1487.5" y="994.8"/><use href="#m3" x="1492.3" y="996.1"/><use href="#m3" x="1497" y="997.3"/><use href="#m3" x="1501.7" y="998.6"/><use href="#m3" x="1506.4" y="999.8"/><use href="#m3" x="1511.1" y="1001"/><use href="#m3" x="1515.8" y="1002.3"/><use href="#m3" x="1520.5" y="1003.5"/><use href="#m3" x="1525.3" y="1004.7"/><use href="#m3" x="1530" y="1005.9"/><use href="#m3" x="1534.7" y="1007.1"/><use href="#m3" x="1539.4" y="1008.4"/><use href="#m3" x="1544.1" y="1009.6"/><use href="#m3" x="1548.8" y="1010.8"/><use href="#m3" x="1553.5" y="1012"/><use href="#m3" x="1558.3" y="1013.2"/><use href="#m3" x="1563" y="1014.4"/><use href="#m3" x="1567.7" y="1015.6"/><use href="#m3" x="1572.4" y="1016.7"/><use href="#m3" x="1577.1" y="1017.9"/><use href="#m3" x="1581.8" y="1019.1"/><use href="#m3" x="1586.5" y="1020.3"/><use href="#m3" x="1591.3" y="1021.5"/><use href="#m3" x="1596" y="1022.6"/><use href="#m3" x="1600.7" y="1023.8"/><use href="#m3" x="1605.4" y="1025"/><use href="#m3" x="1610.1" y="1026.1"/><use href="#m3" x="1614.8" y="1027.3"/><use href="#m3" x="1619.6" y="1028.4"/><use href="#m3" x="1624.3" y="1029.6"/><use href="#m3" x="1629" y="1030.7"/><use href="#m3" x="1633.7" y="1031.9"/><use href="#m3" x="1638.4" y="1033"/><use href="#m3" x="1643.1" y="1034.1"/><use href="#m3" x="1647.8" y="1035.3"/><use href="#m3" x="1652.6" y="1036.4"/><use href="#m3" x="1657.3" y="1037.5"/><use href="#m3" x="1662" y="1038.7"/><use href="#m3" x="1666.7" y="1039.8"/><use href="#m3" x="1671.4" y="1040.9"/><use href="#m3" x="1676.1" y="1042"/><use href="#m3" x="1680.8" y="1043.1"/><use href="#m3" x="1685.6" y="1044.2"/><use href="#m3" x="1690.3" y="1045.3"/><use href="#m3" x="1695" y="1046.4"/><use href="#m3" x="1699.7" y="1047.5"/><use href="#m3" x="1704.4" y="1048.6"/><use href="#m3" x="1709.1" y="1049.7"/><use href="#m3" x="1713.8" y="1050.8"/><use href="#m3" x="1718.6" y="1051.9"/><use href="#m3" x="1723.3" y="1053"/><use href="#m3" x="1728" y="1054.1"/><use href="#m3" x="1732.7" y="1055.2"/><use href="#m3" x="1737.4" y="1056.2"/><use href="#m3" x="1742.1" y="1057.3"/><use href="#m3" x="1746.8" y="1058.4"/><use href="#m3" x="1751.6" y="1059.4"/><use href="#m3" x="1756.3" y="1060.5"/><use href="#m3" x="1761" y="1061.6"/><use href="#m3" x="1765.7" y="1062.6"/><use href="#m3" x="1770.4" y="1063.7"/><use href="#m3" x="1775.1" y="1064.7"/><use href="#m3" x="1779.8" y="1065.8"/><use href="#m3" x="1784.6" y="1066.8"/><use href="#m3" x="1789.3" y="1067.9"/><use href="#m3" x="1794" y="1068.9"/><use href="#m3" x="1798.7" y="1070"/><use href="#m3" x="1803.4" y="1071"/><use href="#m3" x="1808.1" y="1072.1"/><use href="#m3" x="1812.8" y="1073.1"/><use href="#m3" x="1817.6" y="1074.1"/><use href="#m3" x="1822.3" y="1075.1"/><use href="#m3" x="1827" y="1076.2"/><use href="#m3" x="1831.7" y="1077.2"/><use href="#m3" x="1836.4" y="1078.2"/><use href="#m3" x="1841.1" y="1079.2"/><use href="#m3" x="1845.8" y="1080.2"/><use href="#m3" x="1850.6" y="1081.3"/><use href="#m3" x="1855.3" y="1082.3"/><use href="#m3" x="1860" y="1083.3"/><use href="#m3" x="1864.7" y="1084.3"/><use href="#m3" x="1869.4" y="1085.3"/><use href="#m3" x="1874.1" y="1086.3"/><use href="#m3" x="1878.8" y="1087.3"/><use href="#m3" x="1883.6" y="1088.3"/><use href="#m3" x="1888.3" y="1089.3"/><use href="#m3" x="1893" y="1090.2"/><use href="#m3" x="1897.7" y="1091.2"/><use href="#m3" x="1902.4" y="1092.2"/><use href="#m3" x="1907.1" y="1093.2"/><use href="#m3" x="1911.9" y="1094.2"/><use href="#m3" x="1916.6" y="1095.2"/><use href="#m3" x="1921.3" y="1096.1"/><use href="#m3" x="1926" y="1097.1"/><use href="#m3" x="1930.7" y="1098.1"/><use href="#m3" x="1935.4" y="1099"/><use href="#m3" x="1940.1" y="1100"/><use href="#m3" x="1944.9" y="1101"/><use href="#m3" x="1949.6" y="1101.9"/><use href="#m3" x="1954.3" y="1102.9"/><use href="#m3" x="1959" y="1103.9"/><use href="#m3" x="1963.7" y="1104.8"/><use href="#m3" x="1968.4" y="1105.8"/><use href="#m3" x="1973.1" y="1106.7"/><use href="#m3" x="1977.9" y="1107.7"/><use href="#m3" x="1982.6" y="1108.6"/><use href="#m3" x="1987.3" y="1109.5"/><use href="#m3" x="1992" y="1110.5"/><use href="#m3" x="1996.7" y="1111.4"/><use href="#m3" x="2001.4" y="1112.4"/><use href="#m3" x="2006.1" y="1113.3"/><use href="#m3" x="2010.9" y="1114.2"/><use href="#m3" x="2015.6" y="1115.2"/><use href="#m3" x="2020.3" y="1116.1"/><use href="#m3" x="2025" y="1117"/><use href="#m3" x="2029.7" y="1117.9"/><use href="#m3" x="2034.4" y="1118.9"/>
</g>
<g>
<use href="#m4" x="261.8" y="451.4"/><use href="#m4" x="266.5" y="457.8"/><use href="#m4" x="271.2" y="464"/><use href="#m4" x="275.9" y="470.2"/><use href="#m4" x="280.6" y="476.2"/><use href="#m4" x="285.3" y="482.2"/><use href="#m4" x="290.1" y="488.1"/><use href="#m4" x="294.8" y="493.9"/><use href="#m4" x="299.5" y="499.6"/><use href="#m4" x="304.2" y="505.2"/><use href="#m4" x="308.9" y="510.8"/><use href="#m4" x="313.6" y="516.2"/><use href="#m4" x="318.3" y="521.7"/><use href="#m4" x="323.1" y="527"/><use href="#m4" x="327.8" y="532.3"/><use href="#m4" x="332.5" y="537.5"/><use href="#m4" x="337.2" y="542.6"/><use href="#m4" x="341.9" y="547.7"/><use href="#m4" x="346.6" y="552.7"/><use href="#m4" x="351.4" y="557.6"/><use href="#m4" x="356.1" y="562.5"/><use href="#m4" x="360.8" y="567.3"/><use href="#m4" x="365.5" y="572.1"/><use href="#m4" x="370.2" y="576.8"/><use href="#m4" x="374.9" y="581.5"/><use href="#m4" x="379.6" y="586.1"/><use href="#m4" x="384.4" y="590.7"/><use href="#m4" x="389.1" y="595.2"/><use href="#m4" x="393.8" y="599.6"/><use href="#m4" x="398.5" y="604"/><use href="#m4" x="403.2" y="608.4"/><use href="#m4" x="407.9" y="612.7"/><use href="#m4" x="412.6" y="617"/><use href="#m4" x="417.4" y="621.2"/><use href="#m4" x="422.1" y="625.4"/><use href="#m4" x="426.8" y="629.5"/><use href="#m4" x="431.5" y="633.6"/><use href="#m4" x="436.2" y="637.7"/><use href="#m4" x="440.9" y="641.7"/><use href="#m4" x="445.6" y="645.6"/><use href="#m4" x="450.4" y="649.6"/><use href="#m4" x="455.1" y="653.5"/><use href="#m4" x="459.8" y="657.3"/><use href="#m4" x="464.5" y="661.2"/><use href="#m4" x="469.2" y="665"/><use href="#m4" x="473.9" y="668.7"/><use href="#m4" x="478.6" y="672.4"/><use href="#m4" x="483.4" y="676.1"/><use href="#m4" x="488.1" y="679.8"/><use href="#m4" x="492.8" y="683.4"/><use href="#m4" x="497.5" y="687"/><use href="#m4" x="502.2" y="690.5"/><use href="#m4" x="506.9" y="694"/><use href="#m4" x="511.6" y="697.5"/><use href="#m4" x="516.4" y="701"/><use href="#m4" x="521.1" y="704.4"/><use href="#m4" x="525.8" y="707.8"/><use href="#m4" x="530.5" y="711.2"/><use href="#m4" x="535.2" y="714.6"/><use href="#m4" x="539.9" y="717.9"/><use href="#m4" x="544.6" y="721.2"/><use href="#m4" x="549.4" y="724.5"/><use href="#m4" x="554.1" y="727.7"/><use href="#m4" x="558.8" y="730.9"/><use href="#m4" x="563.5" y="734.1"/><use href="#m4" x="568.2" y="737.3"/><use href="#m4" x="572.9" y="740.4"/><use href="#m4" x="577.6" y="743.5"/><use href="#m4" x="582.4" y="746.6"/><use href="#m4" x="587.1" y="749.7"/><use href="#m4" x="591.8" y="752.7"/><use href="#m4" x="596.5" y="755.8"/><use href="#m4" x="601.2" y="758.8"/><use href="#m4" x="605.9" y="761.7"/><use href="#m4" x="610.6" y="764.7"/><use href="#m4" x="615.4" y="767.6"/><use href="#m4" x="620.1" y="770.6"/><use href="#m4" x="624.8" y="773.4"/><use href="#m4" x="629.5" y="776.3"/><use href="#m4" x="634.2" y="779.2"/><use href="#m4" x="638.9" y="782"/><use href="#m4" x="643.6" y="784.8"/><use href="#m4" x="648.4" y="787.6"/><use href="#m4" x="653.1" y="790.4"/><use href="#m4" x="657.8" y="793.1"/><use href="#m4" x="662.5" y="795.9"/><use href="#m4" x="667.2" y="798.6"/><use href="#m4" x="671.9" y="801.3"/><use href="#m4" x="676.7" y="804"/><use href="#m4" x="681.4" y="806.7"/><use href="#m4" x="686.1" y="809.3"/><use href="#m4" x="690.8" y="811.9"/><use href="#m4" x="695.5" y="814.5"/><use href="#m4" x="700.2" y="817.1"/><use href="#m4" x="704.9" y="819.7"/><use href="#m4" x="709.7" y="822.3"/><use href="#m4" x="714.4" y="824.8"/><use href="#m4" x="719.1" y="827.4"/><use href="#m4" x="723.8" y="829.9"/><use href="#m4" x="728.5" y="832.4"/><use href="#m4" x="733.2" y="834.9"/><use href="#m4" x="737.9" y="837.3"/><use href="#m4" x="742.7" y="839.8"/><use href="#m4" x="747.4" y="842.2"/><use href="#m4" x="752.1" y="844.7"/><use href="#m4" x="756.8" y="847.1"/><use href="#m4" x="761.5" y="849.5"/><use href="#m4" x="766.2" y="851.9"/><use href="#m4" x="770.9" y="854.2"/><use href="#m4" x="775.7" y="856.6"/><use href="#m4" x="780.4" y="858.9"/><use href="#m4" x="785.1" y="861.2"/><use href="#m4" x="789.8" y="863.6"/><use href="#m4" x="794.5" y="865.9"/><use href="#m4" x="799.2" y="868.2"/><use href="#m4" x="803.9" y="870.4"/><use href="#m4" x="808.7" y="872.7"/><use href="#m4" x="813.4" y="874.9"/><use href="#m4" x="818.1" y="877.2"/><use href="#m4" x="822.8" y="879.4"/><use href="#m4" x="827.5" y="881.6"/><use href="#m4" x="832.2" y="883.8"/><use href="#m4" x="836.9" y="886"/><use href="#m4" x="841.7" y="888.2"/><use href="#m4" x="846.4" y="890.4"/><use href="#m4" x="851.1" y="892.5"/><use href="#m4" x="855.8" y="894.6"/><use href="#m4" x="860.5" y="896.8"/><use href="#m4" x="865.2" y="898.9"/><use href="#m4" x="869.9" y="901"/><use href="#m4" x="874.7" y="903.1"/><use href="#m4" x="879.4" y="905.2"/><use href="#m4" x="884.1" y="907.3"/><use href="#m4" x="888.8" y="909.3"/><use href="#m4" x="893.5" y="911.4"/><use href="#m4" x="898.2" y="913.4"/><use href="#m4" x="902.9" y="915.5"/><use href="#m4" x="907.7" y="917.5"/><use href="#m4" x="912.4" y="919.5"/><use href="#m4" x="917.1" y="921.5"/><use href="#m4" x="921.8" y="923.5"/><use href="#m4" x="926.5" y="925.5"/><use href="#m4" x="931.2" y="927.5"/><use href="#m4" x="935.9" y="929.4"/><use href="#m4" x="940.7" y="931.4"/><use href="#m4" x="945.4" y="933.3"/><use href="#m4" x="950.1" y="935.3"/><use href="#m4" x="954.8" y="937.2"/><use href="#m4" x="959.5" y="939.1"/><use href="#m4" x="964.2" y="941"/><use href="#m4" x="969" y="942.9"/><use href="#m4" x="973.7" y="944.8"/><use href="#m4" x="978.4" y="946.7"/><use href="#m4" x="983.1" y="948.6"/><use href="#m4" x="987.8" y="950.5"/><use href="#m4" x="992.5" y="952.3"/><use href="#m4" x="997.2" y="954.2"/><use href="#m4" x="1002" y="956"/><use href="#m4" x="1006.7" y="957.8"/><use href="#m4" x="1011.4" y="959.7"/><use href="#m4" x="1016.1" y="961.5"/><use href="#m4" x="1020.8" y="963.3"/><use href="#m4" x="1025.5" y="965.1"/><use href="#m4" x="1030.2" y="966.9"/><use href="#m4" x="1035" y="968.7"/><use href="#m4" x="1039.7" y="970.4"/><use href="#m4" x="1044.4" y="972.2"/><use href="#m4" x="1049.1" y="974"/><use href="#m4" x="1053.8" y="975.7"/><use href="#m4" x="1058.5" y="977.5"/><use href="#m4" x="1063.2" y="979.2"/><use href="#m4" x="1068" y="980.9"/><use href="#m4" x="1072.7" y="982.7"/><use href="#m4" x="1077.4" y="984.4"/><use href="#m4" x="1082.1" y="986.1"/><use href="#m4" x="1086.8" y="987.8"/><use href="#m4" x="1091.5" y="989.5"/><use href="#m4" x="1096.2" y="991.2"/><use href="#m4" x="1101" y="992.8"/><use href="#m4" x="1105.7" y="994.5"/><use href="#m4" x="1110.4" y="996.2"/><use href="#m4" x="1115.1" y="997.8"/><use href="#m4" x="1119.8" y="999.5"/><use href="#m4" x="1124.5" y="1001.1"/><use href="#m4" x="1129.2" y="1002.8"/><use href="#m4" x="1134" y="1004.4"/><use href="#m4" x="1138.7" y="1006"/><use href="#m4" x="1143.4" y="1007.7"/><use href="#m4" x="1148.1" y="1009.3"/><use href="#m4" x="1152.8" y="1010.9"/><use href="#m4" x="1157.5" y="1012.5"/><use href="#m4" x="1162.2" y="1014.1"/><use href="#m4" x="1167" y="1015.7"/><use href="#m4" x="1171.7" y="1017.2"/><use href="#m4" x="1176.4" y="1018.8"/><use href="#m4" x="1181.1" y="1020.4"/><use href="#m4" x="1185.8" y="1022"/><use href="#m4" x="1190.5" y="1023.5"/><use href="#m4" x="1195.2" y="1025.1"/><use href="#m4" x="1200" y="1026.6"/><use href="#m4" x="1204.7" y="1028.2"/><use href="#m4" x="1209.4" y="1029.7"/><use href="#m4" x="1214.1" y="1031.2"/><use href="#m4" x="1218.8" y="1032.7"/><use href="#m4" x="1223.5" y="1034.3"/><use href="#m4" x="1228.2" y="1035.8"/><use href="#m4" x="1233" y="1037.3"/><use href="#m4" x="1237.7" y="1038.8"/><use href="#m4" x="1242.4" y="1040.3"/><use href="#m4" x="1247.1" y="1041.7"/><use href="#m4" x="1251.8" y="1043.2"/><use href="#m4" x="1256.5" y="1044.7"/><use href="#m4" x="1261.2" y="1046.2"/><use href="#m4" x="1266" y="1047.6"/><use href="#m4" x="1270.7" y="1049.1"/><use href="#m4" x="1275.4" y="1050.6"/><use href="#m4" x="1280.1" y="1052"/><use href="#m4" x="1284.8" y="1053.5"/><use href="#m4" x="1289.5" y="1054.9"/><use href="#m4" x="1294.3" y="1056.3"/><use href="#m4" x="1299" y="1057.8"/><use href="#m4" x="1303.7" y="1059.2"/><use href="#m4" x="1308.4" y="1060.6"/><use href="#m4" x="1313.1" y="1062"/><use href="#m4" x="1317.8" y="1063.4"/><use href="#m4" x="1322.5" y="1064.9"/><use href="#m4" x="1327.3" y="1066.3"/><use href="#m4" x="1332" y="1067.6"/><use href="#m4" x="1336.7" y="1069"/><use href="#m4" x="1341.4" y="1070.4"/><use href="#m4" x="1346.1" y="1071.8"/><use href="#m4" x="1350.8" y="1073.2"/><use href="#m4" x="1355.5" y="1074.6"/><use href="#m4" x="1360.3" y="1075.9"/><use href="#m4" x="1365" y="1077.3"/><use href="#m4" x="1369.7" y="1078.6"/><use href="#m4" x="1374.4" y="1080"/><use href="#m4" x="1379.1" y="1081.4"/><use href="#m4" x="1383.8" y="1082.7"/><use href="#m4" x="1388.5" y="1084"/><use href="#m4" x="1393.3" y="1085.4"/><use href="#m4" x="1398" y="1086.7"/><use href="#m4" x="1402.7" y="1088"/><use href="#m4" x="1407.4" y="1089.4"/><use href="#m4" x="1412.1" y="1090.7"/><use href="#m4" x="1416.8" y="1092"/><use href="#m4" x="1421.5" y="1093.3"/><use href="#m4" x="1426.3" y="1094.6"/><use href="#m4" x="1431" y="1095.9"/><use href="#m4" x="1435.7" y="1097.2"/><use href="#m4" x="1440.4" y="1098.5"/><use href="#m4" x="1445.1" y="1099.8"/><use href="#m4" x="1449.8" y="1101.1"/><use href="#m4" x="1454.5" y="1102.4"/><use href="#m4" x="1459.3" y="1103.6"/><use href="#m4" x="1464" y="1104.9"/><use href="#m4" x="1468.7" y="1106.2"/><use href="#m4" x="1473.4" y="1107.4"/><use href="#m4" x="1478.1" y="1108.7"/><use href="#m4" x="1482.8" y="1110"/><use href="#m4" x="1487.5" y="1111.2"/><use href="#m4" x="1492.3" y="1112.5"/><use href="#m4" x="1497" y="1113.7"/><use href="#m4" x="1501.7" y="1114.9"/><use href="#m4" x="1506.4" y="1116.2"/><use href="#m4" x="1511.1" y="1117.4"/><use href="#m4" x="1515.8" y="1118.6"/><use href="#m4" x="1520.5" y="1119.9"/><use href="#m4" x="1525.3" y="1121.1"/><use href="#m4" x="1530" y="1122.3"/><use href="#m4" x="1534.7" y="1123.5"/><use href="#m4" x="1539.4" y="1124.7"/><use href="#m4" x="1544.1" y="1126"/><use href="#m4" x="1548.8" y="1127.2"/><use href="#m4" x="1553.5" y="1128.4"/><use href="#m4" x="1558.3" y="1129.6"/><use href="#m4" x="1563" y="1130.8"/><use href="#m4" x="1567.7" y="1131.9"/><use href="#m4" x="1572.4" y="1133.1"/><use href="#m4" x="1577.1" y="1134.3"/><use href="#m4" x="1581.8" y="1135.5"/><use href="#m4" x="1586.5" y="1136.7"/><use href="#m4" x="1591.3" y="1137.8"/><use href="#m4" x="1596" y="1139"/><use href="#m4" x="1600.7" y="1140.2"/><use href="#m4" x="1605.4" y="1141.3"/><use href="#m4" x="1610.1" y="1142.5"/><use href="#m4" x="1614.8" y="1143.7"/><use href="#m4" x="1619.6" y="1144.8"/><use href="#m4" x="1624.3" y="1146"/><use href="#m4" x="1629" y="1147.1"/><use href="#m4" x="1633.7" y="1148.3"/><use href="#m4" x="1638.4" y="1149.4"/><use href="#m4" x="1643.1" y="1150.5"/><use href="#m4" x="1647.8" y="1151.7"/><use href="#m4" x="1652.6" y="1152.8"/><use href="#m4" x="1657.3" y="1153.9"/><use href="#m4" x="1662" y="1155"/><use href="#m4" x="1666.7" y="1156.2"/><use href="#m4" x="1671.4" y="1157.3"/><use href="#m4" x="1676.1" y="1158.4"/><use href="#m4" x="1680.8" y="1159.5"/><use href="#m4" x="1685.6" y="1160.6"/><use href="#m4" x="1690.3" y="1161.7"/><use href="#m4" x="1695" y="1162.8"/><use href="#m4" x="1699.7" y="1163.9"/><use href="#m4" x="1704.4" y="1165"/><use href="#m4" x="1709.1" y="1166.1"/><use href="#m4" x="1713.8" y="1167.2"/><use href="#m4" x="1718.6" y="1168.3"/><use href="#m4" x="1723.3" y="1169.4"/><use href="#m4" x="1728" y="1170.5"/><use href="#m4" x="1732.7" y="1171.6"/><use href="#m4" x="1737.4" y="1172.6"/><use href="#m4" x="1742.1" y="1173.7"/><use href="#m4" x="1746.8" y="1174.8"/><use href="#m4" x="1751.6" y="1175.8"/><use href="#m4" x="1756.3" y="1176.9"/><use href="#m4" x="1761" y="1178"/><use href="#m4" x="1765.7" y="1179"/><use href="#m4" x="1770.4" y="1180.1"/><use href="#m4" x="1775.1" y="1181.1"/><use href="#m4" x="1779.8" y="1182.2"/><use href="#m4" x="1784.6" y="1183.2"/><use href="#m4" x="1789.3" y="1184.3"/><use href="#m4" x="1794" y="1185.3"/><use href="#m4" x="1798.7" y="1186.4"/><use href="#m4" x="1803.4" y="1187.4"/><use href="#m4" x="1808.1" y="1188.4"/><use href="#m4" x="1812.8" y="1189.5"/><use href="#m4" x="1817.6" y="1190.5"/><use href="#m4" x="1822.3" y="1191.5"/><use href="#m4" x="1827" y="1192.6"/><use href="#m4" x="1831.7" y="1193.6"/><use href="#m4" x="1836.4" y="1194.6"/><use href="#m4" x="1841.1" y="1195.6"/><use href="#m4" x="1845.8" y="1196.6"/><use href="#m4" x="1850.6" y="1197.6"/><use href="#m4" x="1855.3" y="1198.7"/><use href="#m4" x="1860" y="1199.7"/><use href="#m4" x="1864.7" y="1200.7"/><use href="#m4" x="1869.4" y="1201.7"/><use href="#m4" x="1874.1" y="1202.7"/><use href="#m4" x="1878.8" y="1203.7"/><use href="#m4" x="1883.6" y="1204.7"/><use href="#m4" x="1888.3" y="1205.7"/><use href="#m4" x="1893" y="1206.6"/><use href="#m4" x="1897.7" y="1207.6"/><use href="#m4" x="1902.4" y="1208.6"/><use href="#m4" x="1907.1" y="1209.6"/><use href="#m4" x="1911.9" y="1210.6"/><use href="#m4" x="1916.6" y="1211.6"/><use href="#m4" x="1921.3" y="1212.5"/><use href="#m4" x="1926" y="1213.5"/><use href="#m4" x="1930.7" y="1214.5"/><use href="#m4" x="1935.4" y="1215.4"/><use href="#m4" x="1940.1" y="1216.4"/><use href="#m4" x="1944.9" y="1217.4"/><use href="#m4" x="1949.6" y="1218.3"/><use href="#m4" x="1954.3" y="1219.3"/><use href="#m4" x="1959" y="1220.2"/><use href="#m4" x="1963.7" y="1221.2"/><use href="#m4" x="1968.4" y="1222.2"/><use href="#m4" x="1973.1" y="1223.1"/><use href="#m4" x="1977.9" y="1224.1"/><use href="#m4" x="1982.6" y="1225"/><use href="#m4" x="1987.3" y="1225.9"/><use href="#m4" x="1992" y="1226.9"/><use href="#m4" x="1996.7" y="1227.8"/><use href="#m4" x="2001.4" y="1228.8"/><use href="#m4" x="2006.1" y="1229.7"/><use href="#m4" x="2010.9" y="1230.6"/><use href="#m4" x="2015.6" y="1231.6"/><use href="#m4" x="2020.3" y="1232.5"/><use href="#m4" x="2025" y="1233.4"/><use href="#m4" x="2029.7" y="1234.3"/><use href="#m4" x="2034.4" y="1235.3"/>
</g>
<g>
<use href="#m5" x="261.8" y="541.7"/><use href="#m5" x="266.5" y="548"/><use href="#m5" x="271.2" y="554.3"/><use href="#m5" x="275.9" y="560.4"/><use href="#m5" x="280.6" y="566.5"/><use href="#m5" x="285.3" y="572.5"/><use href="#m5" x="290.1" y="578.3"/><use href="#m5" x="294.8" y="584.1"/><use href="#m5" x="299.5" y="589.9"/><use href="#m5" x="304.2" y="595.5"/><use href="#m5" x="308.9" y="601"/><use href="#m5" x="313.6" y="606.5"/><use href="#m5" x="318.3" y="611.9"/><use href="#m5" x="323.1" y="617.3"/><use href="#m5" x="327.8" y="622.5"/><use href="#m5" x="332.5" y="627.7"/><use href="#m5" x="337.2" y="632.9"/><use href="#m5" x="341.9" y="638"/><use href="#m5" x="346.6" y="643"/><use href="#m5" x="351.4" y="647.9"/><use href="#m5" x="356.1" y="652.8"/><use href="#m5" x="360.8" y="657.6"/><use href="#m5" x="365.5" y="662.4"/><use href="#m5" x="370.2" y="667.1"/><use href="#m5" x="374.9" y="671.8"/><use href="#m5" x="379.6" y="676.4"/><use href="#m5" x="384.4" y="680.9"/><use href="#m5" x="389.1" y="685.4"/><use href="#m5" x="393.8" y="689.9"/><use href="#m5" x="398.5" y="694.3"/><use href="#m5" x="403.2" y="698.7"/><use href="#m5" x="407.9" y="703"/><use href="#m5" x="412.6" y="707.2"/><use href="#m5" x="417.4" y="711.5"/><use href="#m5" x="422.1" y="715.7"/><use href="#m5" x="426.8" y="719.8"/><use href="#m5" x="431.5" y="723.9"/><use href="#m5" x="436.2" y="727.9"/><use href="#m5" x="440.9" y="732"/><use href="#m5" x="445.6" y="735.9"/><use href="#m5" x="450.4" y="739.9"/><use href="#m5" x="455.1" y="743.8"/><use href="#m5" x="459.8" y="747.6"/><use href="#m5" x="464.5" y="751.4"/><use href="#m5" x="469.2" y="755.2"/><use href="#m5" x="473.9" y="759"/><use href="#m5" x="478.6" y="762.7"/><use href="#m5" x="483.4" y="766.4"/><use href="#m5" x="488.1" y="770"/><use href="#m5" x="492.8" y="773.7"/><use href="#m5" x="497.5" y="777.2"/><use href="#m5" x="502.2" y="780.8"/><use href="#m5" x="506.9" y="784.3"/><use href="#m5" x="511.6" y="787.8"/><use href="#m5" x="516.4" y="791.3"/><use href="#m5" x="521.1" y="794.7"/><use href="#m5" x="525.8" y="798.1"/><use href="#m5" x="530.5" y="801.5"/><use href="#m5" x="535.2" y="804.9"/><use href="#m5" x="539.9" y="808.2"/><use href="#m5" x="544.6" y="811.5"/><use href="#m5" x="549.4" y="814.7"/><use href="#m5" x="554.1" y="818"/><use href="#m5" x="558.8" y="821.2"/><use href="#m5" x="563.5" y="824.4"/><use href="#m5" x="568.2" y="827.6"/><use href="#m5" x="572.9" y="830.7"/><use href="#m5" x="577.6" y="833.8"/><use href="#m5" x="582.4" y="836.9"/><use href="#m5" x="587.1" y="840"/><use href="#m5" x="591.8" y="843"/><use href="#m5" x="596.5" y="846"/><use href="#m5" x="601.2" y="849"/><use href="#m5" x="605.9" y="852"/><use href="#m5" x="610.6" y="855"/><use href="#m5" x="615.4" y="857.9"/><use href="#m5" x="620.1" y="860.8"/><use href="#m5" x="624.8" y="863.7"/><use href="#m5" x="629.5" y="866.6"/><use href="#m5" x="634.2" y="869.5"/><use href="#m5" x="638.9" y="872.3"/><use href="#m5" x="643.6" y="875.1"/><use href="#m5" x="648.4" y="877.9"/><use href="#m5" x="653.1" y="880.7"/><use href="#m5" x="657.8" y="883.4"/><use href="#m5" x="662.5" y="886.2"/><use href="#m5" x="667.2" y="888.9"/><use href="#m5" x="671.9" y="891.6"/><use href="#m5" x="676.7" y="894.3"/><use href="#m5" x="681.4" y="896.9"/><use href="#m5" x="686.1" y="899.6"/><use href="#m5" x="690.8" y="902.2"/><use href="#m5" x="695.5" y="904.8"/><use href="#m5" x="700.2" y="907.4"/><use href="#m5" x="704.9" y="910"/><use href="#m5" x="709.7" y="912.6"/><use href="#m5" x="714.4" y="915.1"/><use href="#m5" x="719.1" y="917.7"/><use href="#m5" x="723.8" y="920.2"/><use href="#m5" x="728.5" y="922.7"/><use href="#m5" x="733.2" y="925.2"/><use href="#m5" x="737.9" y="927.6"/><use href="#m5" x="742.7" y="930.1"/><use href="#m5" x="747.4" y="932.5"/><use href="#m5" x="752.1" y="934.9"/><use href="#m5" x="756.8" y="937.4"/><use href="#m5" x="761.5" y="939.8"/><use href="#m5" x="766.2" y="942.1"/><use href="#m5" x="770.9" y="944.5"/><use href="#m5" x="775.7" y="946.9"/><use href="#m5" x="780.4" y="949.2"/><use href="#m5" x="785.1" y="951.5"/><use href="#m5" x="789.8" y="953.8"/><use href="#m5" x="794.5" y="956.1"/><use href="#m5" x="799.2" y="958.4"/><use href="#m5" x="803.9" y="960.7"/><use href="#m5" x="808.7" y="963"/><use href="#m5" x="813.4" y="965.2"/><use href="#m5" x="818.1" y="967.5"/><use href="#m5" x="822.8" y="969.7"/><use href="#m5" x="827.5" y="971.9"/><use href="#m5" x="832.2" y="974.1"/><use href="#m5" x="836.9" y="976.3"/><use href="#m5" x="841.7" y="978.5"/><use href="#m5" x="846.4" y="980.6"/><use href="#m5" x="851.1" y="982.8"/><use href="#m5" x="855.8" y="984.9"/><use href="#m5" x="860.5" y="987.1"/><use href="#m5" x="865.2" y="989.2"/><use href="#m5" x="869.9" y="991.3"/><use href="#m5" x="874.7" y="993.4"/><use href="#m5" x="879.4" y="995.5"/><use href="#m5" x="884.1" y="997.6"/><use href="#m5" x="888.8" y="999.6"/><use href="#m5" x="893.5" y="1001.7"/><use href="#m5" x="898.2" y="1003.7"/><use href="#m5" x="902.9" y="1005.8"/><use href="#m5" x="907.7" y="1007.8"/><use href="#m5" x="912.4" y="1009.8"/><use href="#m5" x="917.1" y="1011.8"/><use href="#m5" x="921.8" y="1013.8"/><use href="#m5" x="926.5" y="1015.8"/><use href="#m5" x="931.2" y="1017.8"/><use href="#m5" x="935.9" y="1019.7"/><use href="#m5" x="940.7" y="1021.7"/><use href="#m5" x="945.4" y="1023.6"/><use href="#m5" x="950.1" y="1025.6"/><use href="#m5" x="954.8" y="1027.5"/><use href="#m5" x="959.5" y="1029.4"/><use href="#m5" x="964.2" y="1031.3"/><use href="#m5" x="969" y="1033.2"/><use href="#m5" x="973.7" y="1035.1"/><use href="#m5" x="978.4" y="1037"/><use href="#m5" x="983.1" y="1038.9"/><use href="#m5" x="987.8" y="1040.7"/><use href="#m5" x="992.5" y="1042.6"/><use href="#m5" x="997.2" y="1044.4"/><use href="#m5" x="1002" y="1046.3"/><use href="#m5" x="1006.7" y="1048.1"/><use href="#m5" x="1011.4" y="1049.9"/><use href="#m5" x="1016.1" y="1051.8"/><use href="#m5" x="1020.8" y="1053.6"/><use href="#m5" x="1025.5" y="1055.4"/><use href="#m5" x="1030.2" y="1057.2"/><use href="#m5" x="1035" y="1058.9"/><use href="#m5" x="1039.7" y="1060.7"/><use href="#m5" x="1044.4" y="1062.5"/><use href="#m5" x="1049.1" y="1064.3"/><use href="#m5" x="1053.8" y="1066"/><use href="#m5" x="1058.5" y="1067.8"/><use href="#m5" x="1063.2" y="1069.5"/><use href="#m5" x="1068" y="1071.2"/><use href="#m5" x="1072.7" y="1072.9"/><use href="#m5" x="1077.4" y="1074.7"/><use href="#m5" x="1082.1" y="1076.4"/><use href="#m5" x="1086.8" y="1078.1"/><use href="#m5" x="1091.5" y="1079.8"/><use href="#m5" x="1096.2" y="1081.4"/><use href="#m5" x="1101" y="1083.1"/><use href="#m5" x="1105.7" y="1084.8"/><use href="#m5" x="1110.4" y="1086.5"/><use href="#m5" x="1115.1" y="1088.1"/><use href="#m5" x="1119.8" y="1089.8"/><use href="#m5" x="1124.5" y="1091.4"/><use href="#m5" x="1129.2" y="1093.1"/><use href="#m5" x="1134" y="1094.7"/><use href="#m5" x="1138.7" y="1096.3"/><use href="#m5" x="1143.4" y="1097.9"/><use href="#m5" x="1148.1" y="1099.6"/><use href="#m5" x="1152.8" y="1101.2"/><use href="#m5" x="1157.5" y="1102.8"/><use href="#m5" x="1162.2" y="1104.4"/><use href="#m5" x="1167" y="1105.9"/><use href="#m5" x="1171.7" y="1107.5"/><use href="#m5" x="1176.4" y="1109.1"/><use href="#m5" x="1181.1" y="1110.7"/><use href="#m5" x="1185.8" y="1112.2"/><use href="#m5" x="1190.5" y="1113.8"/><use href="#m5" x="1195.2" y="1115.3"/><use href="#m5" x="1200" y="1116.9"/><use href="#m5" x="1204.7" y="1118.4"/><use href="#m5" x="1209.4" y="1120"/><use href="#m5" x="1214.1" y="1121.5"/><use href="#m5" x="1218.8" y="1123"/><use href="#m5" x="1223.5" y="1124.5"/><use href="#m5" x="1228.2" y="1126"/><use href="#m5" x="1233" y="1127.5"/><use href="#m5" x="1237.7" y="1129"/><use href="#m5" x="1242.4" y="1130.5"/><use href="#m5" x="1247.1" y="1132"/><use href="#m5" x="1251.8" y="1133.5"/><use href="#m5" x="1256.5" y="1135"/><use href="#m5" x="1261.2" y="1136.5"/><use href="#m5" x="1266" y="1137.9"/><use href="#m5" x="1270.7" y="1139.4"/><use href="#m5" x="1275.4" y="1140.8"/><use href="#m5" x="1280.1" y="1142.3"/><use href="#m5" x="1284.8" y="1143.7"/><use href="#m5" x="1289.5" y="1145.2"/><use href="#m5" x="1294.3" y="1146.6"/><use href="#m5" x="1299" y="1148.1"/><use href="#m5" x="1303.7" y="1149.5"/><use href="#m5" x="1308.4" y="1150.9"/><use href="#m5" x="1313.1" y="1152.3"/><use href="#m5" x="1317.8" y="1153.7"/><use href="#m5" x="1322.5" y="1155.1"/><use href="#m5" x="1327.3" y="1156.5"/><use href="#m5" x="1332" y="1157.9"/><use href="#m5" x="1336.7" y="1159.3"/><use href="#m5" x="1341.4" y="1160.7"/><use href="#m5" x="1346.1" y="1162.1"/><use href="#m5" x="1350.8" y="1163.5"/><use href="#m5" x="1355.5" y="1164.8"/><use href="#m5" x="1360.3" y="1166.2"/><use href="#m5" x="1365" y="1167.6"/><use href="#m5" x="1369.7" y="1168.9"/><use href="#m5" x="1374.4" y="1170.3"/><use href="#m5" x="1379.1" y="1171.6"/><use href="#m5" x="1383.8" y="1173"/><use href="#m5" x="1388.5" y="1174.3"/><use href="#m5" x="1393.3" y="1175.7"/><use href="#m5" x="1398" y="1177"/><use href="#m5" x="1402.7" y="1178.3"/><use href="#m5" x="1407.4" y="1179.6"/><use href="#m5" x="1412.1" y="1181"/><use href="#m5" x="1416.8" y="1182.3"/><use href="#m5" x="1421.5" y="1183.6"/><use href="#m5" x="1426.3" y="1184.9"/><use href="#m5" x="1431" y="1186.2"/><use href="#m5" x="1435.7" y="1187.5"/><use href="#m5" x="1440.4" y="1188.8"/><use href="#m5" x="1445.1" y="1190.1"/><use href="#m5" x="1449.8" y="1191.4"/><use href="#m5" x="1454.5" y="1192.6"/><use href="#m5" x="1459.3" y="1193.9"/><use href="#m5" x="1464" y="1195.2"/><use href="#m5" x="1468.7" y="1196.5"/><use href="#m5" x="1473.4" y="1197.7"/><use href="#m5" x="1478.1" y="1199"/><use href="#m5" x="1482.8" y="1200.2"/><use href="#m5" x="1487.5" y="1201.5"/><use href="#m5" x="1492.3" y="1202.7"/><use href="#m5" x="1497" y="1204"/><use href="#m5" x="1501.7" y="1205.2"/><use href="#m5" x="1506.4" y="1206.5"/><use href="#m5" x="1511.1" y="1207.7"/><use href="#m5" x="1515.8" y="1208.9"/><use href="#m5" x="1520.5" y="1210.2"/><use href="#m5" x="1525.3" y="1211.4"/><use href="#m5" x="1530" y="1212.6"/><use href="#m5" x="1534.7" y="1213.8"/><use href="#m5" x="1539.4" y="1215"/><use href="#m5" x="1544.1" y="1216.2"/><use href="#m5" x="1548.8" y="1217.4"/><use href="#m5" x="1553.5" y="1218.6"/><use href="#m5" x="1558.3" y="1219.8"/><use href="#m5" x="1563" y="1221"/><use href="#m5" x="1567.7" y="1222.2"/><use href="#m5" x="1572.4" y="1223.4"/><use href="#m5" x="1577.1" y="1224.6"/><use href="#m5" x="1581.8" y="1225.8"/><use href="#m5" x="1586.5" y="1227"/><use href="#m5" x="1591.3" y="1228.1"/><use href="#m5" x="1596" y="1229.3"/><use href="#m5" x="1600.7" y="1230.5"/><use href="#m5" x="1605.4" y="1231.6"/><use href="#m5" x="1610.1" y="1232.8"/><use href="#m5" x="1614.8" y="1233.9"/><use href="#m5" x="1619.6" y="1235.1"/><use href="#m5" x="1624.3" y="1236.2"/><use href="#m5" x="1629" y="1237.4"/><use href="#m5" x="1633.7" y="1238.5"/><use href="#m5" x="1638.4" y="1239.7"/><use href="#m5" x="1643.1" y="1240.8"/><use href="#m5" x="1647.8" y="1241.9"/><use href="#m5" x="1652.6" y="1243.1"/><use href="#m5" x="1657.3" y="1244.2"/><use href="#m5" x="1662" y="1245.3"/><use href="#m5" x="1666.7" y="1246.5"/><use href="#m5" x="1671.4" y="1247.6"/><use href="#m5" x="1676.1" y="1248.7"/><use href="#m5" x="1680.8" y="1249.8"/><use href="#m5" x="1685.6" y="1250.9"/><use href="#m5" x="1690.3" y="1252"/><use href="#m5" x="1695" y="1253.1"/><use href="#m5" x="1699.7" y="1254.2"/><use href="#m5" x="1704.4" y="1255.3"/><use href="#m5" x="1709.1" y="1256.4"/><use href="#m5" x="1713.8" y="1257.5"/><use href="#m5" x="1718.6" y="1258.6"/><use href="#m5" x="1723.3" y="1259.7"/><use href="#m5" x="1728" y="1260.8"/><use href="#m5" x="1732.7" y="1261.8"/><use href="#m5" x="1737.4" y="1262.9"/><use href="#m5" x="1742.1" y="1264"/><use href="#m5" x="1746.8" y="1265.1"/><use href="#m5" x="1751.6" y="1266.1"/><use href="#m5" x="1756.3" y="1267.2"/><use href="#m5" x="1761" y="1268.3"/><use href="#m5" x="1765.7" y="1269.3"/><use href="#m5" x="1770.4" y="1270.4"/><use href="#m5" x="1775.1" y="1271.4"/><use href="#m5" x="1779.8" y="1272.5"/><use href="#m5" x="1784.6" y="1273.5"/><use href="#m5" x="1789.3" y="1274.6"/><use href="#m5" x="1794" y="1275.6"/><use href="#m5" x="1798.7" y="1276.7"/><use href="#m5" x="1803.4" y="1277.7"/><use href="#m5" x="1808.1" y="1278.7"/><use href="#m5" x="1812.8" y="1279.8"/><use href="#m5" x="1817.6" y="1280.8"/><use href="#m5" x="1822.3" y="1281.8"/><use href="#m5" x="1827" y="1282.8"/><use href="#m5" x="1831.7" y="1283.9"/><use href="#m5" x="1836.4" y="1284.9"/><use href="#m5" x="1841.1" y="1285.9"/><use href="#m5" x="1845.8" y="1286.9"/><use href="#m5" x="1850.6" y="1287.9"/><use href="#m5" x="1855.3" y="1288.9"/><use href="#m5" x="1860" y="1289.9"/><use href="#m5" x="1864.7" y="1290.9"/><use href="#m5" x="1869.4" y="1291.9"/><use href="#m5" x="1874.1" y="1292.9"/><use href="#m5" x="1878.8" y="1293.9"/><use href="#m5" x="1883.6" y="1294.9"/><use href="#m5" x="1888.3" y="1295.9"/><use href="#m5" x="1893" y="1296.9"/><use href="#m5" x="1897.7" y="1297.9"/><use href="#m5" x="1902.4" y="1298.9"/><use href="#m5" x="1907.1" y="1299.9"/><use href="#m5" x="1911.9" y="1300.9"/><use href="#m5" x="1916.6" y="1301.8"/><use href="#m5" x="1921.3" y="1302.8"/><use href="#m5" x="1926" y="1303.8"/><use href="#m5" x="1930.7" y="1304.8"/><use href="#m5" x="1935.4" y="1305.7"/><use href="#m5" x="1940.1" y="1306.7"/><use href="#m5" x="1944.9" y="1307.7"/><use href="#m5" x="1949.6" y="1308.6"/><use href="#m5" x="1954.3" y="1309.6"/><use href="#m5" x="1959" y="1310.5"/><use href="#m5" x="1963.7" y="1311.5"/><use href="#m5" x="1968.4" y="1312.4"/><use href="#m5" x="1973.1" y="1313.4"/><use href="#m5" x="1977.9" y="1314.3"/><use href="#m5" x="1982.6" y="1315.3"/><use href="#m5" x="1987.3" y="1316.2"/><use href="#m5" x="1992" y="1317.2"/><use href="#m5" x="1996.7" y="1318.1"/><use href="#m5" x="2001.4" y="1319"/><use href="#m5" x="2006.1" y="1320"/><use href="#m5" x="2010.9" y="1320.9"/><use href="#m5" x="2015.6" y="1321.8"/><use href="#m5" x="2020.3" y="1322.8"/><use href="#m5" x="2025" y="1323.7"/><use href="#m5" x="2029.7" y="1324.6"/><use href="#m5" x="2034.4" y="1325.5"/>
</g>
<g>
<use href="#m6" x="261.8" y="615.5"/><use href="#m6" x="266.5" y="621.8"/><use href="#m6" x="271.2" y="628.1"/><use href="#m6" x="275.9" y="634.2"/><use href="#m6" x="280.6" y="640.3"/><use href="#m6" x="285.3" y="646.2"/><use href="#m6" x="290.1" y="652.1"/><use href="#m6" x="294.8" y="657.9"/><use href="#m6" x="299.5" y="663.6"/><use href="#m6" x="304.2" y="669.3"/><use href="#m6" x="308.9" y="674.8"/><use href="#m6" x="313.6" y="680.3"/><use href="#m6" x="318.3" y="685.7"/><use href="#m6" x="323.1" y="691"/><use href="#m6" x="327.8" y="696.3"/><use href="#m6" x="332.5" y="701.5"/><use href="#m6" x="337.2" y="706.6"/><use href="#m6" x="341.9" y="711.7"/><use href="#m6" x="346.6" y="716.7"/><use href="#m6" x="351.4" y="721.7"/><use href="#m6" x="356.1" y="726.6"/><use href="#m6" x="360.8" y="731.4"/><use href="#m6" x="365.5" y="736.2"/><use href="#m6" x="370.2" y="740.9"/><use href="#m6" x="374.9" y="745.5"/><use href="#m6" x="379.6" y="750.1"/><use href="#m6" x="384.4" y="754.7"/><use href="#m6" x="389.1" y="759.2"/><use href="#m6" x="393.8" y="763.7"/><use href="#m6" x="398.5" y="768.1"/><use href="#m6" x="403.2" y="772.4"/><use href="#m6" x="407.9" y="776.7"/><use href="#m6" x="412.6" y="781"/><use href="#m6" x="417.4" y="785.2"/><use href="#m6" x="422.1" y="789.4"/><use href="#m6" x="426.8" y="793.6"/><use href="#m6" x="431.5" y="797.6"/><use href="#m6" x="436.2" y="801.7"/><use href="#m6" x="440.9" y="805.7"/><use href="#m6" x="445.6" y="809.7"/><use href="#m6" x="450.4" y="813.6"/><use href="#m6" x="455.1" y="817.5"/><use href="#m6" x="459.8" y="821.4"/><use href="#m6" x="464.5" y="825.2"/><use href="#m6" x="469.2" y="829"/><use href="#m6" x="473.9" y="832.8"/><use href="#m6" x="478.6" y="836.5"/><use href="#m6" x="483.4" y="840.2"/><use href="#m6" x="488.1" y="843.8"/><use href="#m6" x="492.8" y="847.4"/><use href="#m6" x="497.5" y="851"/><use href="#m6" x="502.2" y="854.6"/><use href="#m6" x="506.9" y="858.1"/><use href="#m6" x="511.6" y="861.6"/><use href="#m6" x="516.4" y="865.1"/><use href="#m6" x="521.1" y="868.5"/><use href="#m6" x="525.8" y="871.9"/><use href="#m6" x="530.5" y="875.3"/><use href="#m6" x="535.2" y="878.6"/><use href="#m6" x="539.9" y="881.9"/><use href="#m6" x="544.6" y="885.2"/><use href="#m6" x="549.4" y="888.5"/><use href="#m6" x="554.1" y="891.7"/><use href="#m6" x="558.8" y="895"/><use href="#m6" x="563.5" y="898.2"/><use href="#m6" x="568.2" y="901.3"/><use href="#m6" x="572.9" y="904.5"/><use href="#m6" x="577.6" y="907.6"/><use href="#m6" x="582.4" y="910.7"/><use href="#m6" x="587.1" y="913.7"/><use href="#m6" x="591.8" y="916.8"/><use href="#m6" x="596.5" y="919.8"/><use href="#m6" x="601.2" y="922.8"/><use href="#m6" x="605.9" y="925.8"/><use href="#m6" x="610.6" y="928.8"/><use href="#m6" x="615.4" y="931.7"/><use href="#m6" x="620.1" y="934.6"/><use href="#m6" x="624.8" y="937.5"/><use href="#m6" x="629.5" y="940.4"/><use href="#m6" x="634.2" y="943.2"/><use href="#m6" x="638.9" y="946.1"/><use href="#m6" x="643.6" y="948.9"/><use href="#m6" x="648.4" y="951.7"/><use href="#m6" x="653.1" y="954.4"/><use href="#m6" x="657.8" y="957.2"/><use href="#m6" x="662.5" y="959.9"/><use href="#m6" x="667.2" y="962.7"/><use href="#m6" x="671.9" y="965.4"/><use href="#m6" x="676.7" y="968"/><use href="#m6" x="681.4" y="970.7"/><use href="#m6" x="686.1" y="973.3"/><use href="#m6" x="690.8" y="976"/><use href="#m6" x="695.5" y="978.6"/><use href="#m6" x="700.2" y="981.2"/><use href="#m6" x="704.9" y="983.8"/><use href="#m6" x="709.7" y="986.3"/><use href="#m6" x="714.4" y="988.9"/><use href="#m6" x="719.1" y="991.4"/><use href="#m6" x="723.8" y="993.9"/><use href="#m6" x="728.5" y="996.4"/><use href="#m6" x="733.2" y="998.9"/><use href="#m6" x="737.9" y="1001.4"/><use href="#m6" x="742.7" y="1003.8"/><use href="#m6" x="747.4" y="1006.3"/><use href="#m6" x="752.1" y="1008.7"/><use href="#m6" x="756.8" y="1011.1"/><use href="#m6" x="761.5" y="1013.5"/><use href="#m6" x="766.2" y="1015.9"/><use href="#m6" x="770.9" y="1018.3"/><use href="#m6" x="775.7" y="1020.6"/><use href="#m6" x="780.4" y="1023"/><use href="#m6" x="785.1" y="1025.3"/><use href="#m6" x="789.8" y="1027.6"/><use href="#m6" x="794.5" y="1029.9"/><use href="#m6" x="799.2" y="1032.2"/><use href="#m6" x="803.9" y="1034.5"/><use href="#m6" x="808.7" y="1036.7"/><use href="#m6" x="813.4" y="1039"/><use href="#m6" x="818.1" y="1041.2"/><use href="#m6" x="822.8" y="1043.5"/><use href="#m6" x="827.5" y="1045.7"/><use href="#m6" x="832.2" y="1047.9"/><use href="#m6" x="836.9" y="1050.1"/><use href="#m6" x="841.7" y="1052.2"/><use href="#m6" x="846.4" y="1054.4"/><use href="#m6" x="851.1" y="1056.6"/><use href="#m6" x="855.8" y="1058.7"/><use href="#m6" x="860.5" y="1060.8"/><use href="#m6" x="865.2" y="1062.9"/><use href="#m6" x="869.9" y="1065.1"/><use href="#m6" x="874.7" y="1067.2"/><use href="#m6" x="879.4" y="1069.2"/><use href="#m6" x="884.1" y="1071.3"/><use href="#m6" x="888.8" y="1073.4"/><use href="#m6" x="893.5" y="1075.4"/><use href="#m6" x="898.2" y="1077.5"/><use href="#m6" x="902.9" y="1079.5"/><use href="#m6" x="907.7" y="1081.5"/><use href="#m6" x="912.4" y="1083.6"/><use href="#m6" x="917.1" y="1085.6"/><use href="#m6" x="921.8" y="1087.6"/><use href="#m6" x="926.5" y="1089.5"/><use href="#m6" x="931.2" y="1091.5"/><use href="#m6" x="935.9" y="1093.5"/><use href="#m6" x="940.7" y="1095.4"/><use href="#m6" x="945.4" y="1097.4"/><use href="#m6" x="950.1" y="1099.3"/><use href="#m6" x="954.8" y="1101.3"/><use href="#m6" x="959.5" y="1103.2"/><use href="#m6" x="964.2" y="1105.1"/><use href="#m6" x="969" y="1107"/><use href="#m6" x="973.7" y="1108.9"/><use href="#m6" x="978.4" y="1110.8"/><use href="#m6" x="983.1" y="1112.6"/><use href="#m6" x="987.8" y="1114.5"/><use href="#m6" x="992.5" y="1116.4"/><use href="#m6" x="997.2" y="1118.2"/><use href="#m6" x="1002" y="1120.1"/><use href="#m6" x="1006.7" y="1121.9"/><use href="#m6" x="1011.4" y="1123.7"/><use href="#m6" x="1016.1" y="1125.5"/><use href="#m6" x="1020.8" y="1127.3"/><use href="#m6" x="1025.5" y="1129.1"/><use href="#m6" x="1030.2" y="1130.9"/><use href="#m6" x="1035" y="1132.7"/><use href="#m6" x="1039.7" y="1134.5"/><use href="#m6" x="1044.4" y="1136.3"/><use href="#m6" x="1049.1" y="1138"/><use href="#m6" x="1053.8" y="1139.8"/><use href="#m6" x="1058.5" y="1141.5"/><use href="#m6" x="1063.2" y="1143.3"/><use href="#m6" x="1068" y="1145"/><use href="#m6" x="1072.7" y="1146.7"/><use href="#m6" x="1077.4" y="1148.4"/><use href="#m6" x="1082.1" y="1150.1"/><use href="#m6" x="1086.8" y="1151.8"/><use href="#m6" x="1091.5" y="1153.5"/><use href="#m6" x="1096.2" y="1155.2"/><use href="#m6" x="1101" y="1156.9"/><use href="#m6" x="1105.7" y="1158.6"/><use href="#m6" x="1110.4" y="1160.2"/><use href="#m6" x="1115.1" y="1161.9"/><use href="#m6" x="1119.8" y="1163.5"/><use href="#m6" x="1124.5" y="1165.2"/><use href="#m6" x="1129.2" y="1166.8"/><use href="#m6" x="1134" y="1168.5"/><use href="#m6" x="1138.7" y="1170.1"/><use href="#m6" x="1143.4" y="1171.7"/><use href="#m6" x="1148.1" y="1173.3"/><use href="#m6" x="1152.8" y="1174.9"/><use href="#m6" x="1157.5" y="1176.5"/><use href="#m6" x="1162.2" y="1178.1"/><use href="#m6" x="1167" y="1179.7"/><use href="#m6" x="1171.7" y="1181.3"/><use href="#m6" x="1176.4" y="1182.9"/><use href="#m6" x="1181.1" y="1184.4"/><use href="#m6" x="1185.8" y="1186"/><use href="#m6" x="1190.5" y="1187.6"/><use href="#m6" x="1195.2" y="1189.1"/><use href="#m6" x="1200" y="1190.7"/><use href="#m6" x="1204.7" y="1192.2"/><use href="#m6" x="1209.4" y="1193.7"/><use href="#m6" x="1214.1" y="1195.3"/><use href="#m6" x="1218.8" y="1196.8"/><use href="#m6" x="1223.5" y="1198.3"/><use href="#m6" x="1228.2" y="1199.8"/><use href="#m6" x="1233" y="1201.3"/><use href="#m6" x="1237.7" y="1202.8"/><use href="#m6" x="1242.4" y="1204.3"/><use href="#m6" x="1247.1" y="1205.8"/><use href="#m6" x="1251.8" y="1207.3"/><use href="#m6" x="1256.5" y="1208.8"/><use href="#m6" x="1261.2" y="1210.2"/><use href="#m6" x="1266" y="1211.7"/><use href="#m6" x="1270.7" y="1213.2"/><use href="#m6" x="1275.4" y="1214.6"/><use href="#m6" x="1280.1" y="1216.1"/><use href="#m6" x="1284.8" y="1217.5"/><use href="#m6" x="1289.5" y="1219"/><use href="#m6" x="1294.3" y="1220.4"/><use href="#m6" x="1299" y="1221.8"/><use href="#m6" x="1303.7" y="1223.2"/><use href="#m6" x="1308.4" y="1224.7"/><use href="#m6" x="1313.1" y="1226.1"/><use href="#m6" x="1317.8" y="1227.5"/><use href="#m6" x="1322.5" y="1228.9"/><use href="#m6" x="1327.3" y="1230.3"/><use href="#m6" x="1332" y="1231.7"/><use href="#m6" x="1336.7" y="1233.1"/><use href="#m6" x="1341.4" y="1234.5"/><use href="#m6" x="1346.1" y="1235.9"/><use href="#m6" x="1350.8" y="1237.2"/><use href="#m6" x="1355.5" y="1238.6"/><use href="#m6" x="1360.3" y="1240"/><use href="#m6" x="1365" y="1241.3"/><use href="#m6" x="1369.7" y="1242.7"/><use href="#m6" x="1374.4" y="1244"/><use href="#m6" x="1379.1" y="1245.4"/><use href="#m6" x="1383.8" y="1246.7"/><use href="#m6" x="1388.5" y="1248.1"/><use href="#m6" x="1393.3" y="1249.4"/><use href="#m6" x="1398" y="1250.8"/><use href="#m6" x="1402.7" y="1252.1"/><use href="#m6" x="1407.4" y="1253.4"/><use href="#m6" x="1412.1" y="1254.7"/><use href="#m6" x="1416.8" y="1256"/><use href="#m6" x="1421.5" y="1257.3"/><use href="#m6" x="1426.3" y="1258.7"/><use href="#m6" x="1431" y="1260"/><use href="#m6" x="1435.7" y="1261.2"/><use href="#m6" x="1440.4" y="1262.5"/><use href="#m6" x="1445.1" y="1263.8"/><use href="#m6" x="1449.8" y="1265.1"/><use href="#m6" x="1454.5" y="1266.4"/><use href="#m6" x="1459.3" y="1267.7"/><use href="#m6" x="1464" y="1268.9"/><use href="#m6" x="1468.7" y="1270.2"/><use href="#m6" x="1473.4" y="1271.5"/><use href="#m6" x="1478.1" y="1272.7"/><use href="#m6" x="1482.8" y="1274"/><use href="#m6" x="1487.5" y="1275.3"/><use href="#m6" x="1492.3" y="1276.5"/><use href="#m6" x="1497" y="1277.8"/><use href="#m6" x="1501.7" y="1279"/><use href="#m6" x="1506.4" y="1280.2"/><use href="#m6" x="1511.1" y="1281.5"/><use href="#m6" x="1515.8" y="1282.7"/><use href="#m6" x="1520.5" y="1283.9"/><use href="#m6" x="1525.3" y="1285.1"/><use href="#m6" x="1530" y="1286.4"/><use href="#m6" x="1534.7" y="1287.6"/><use href="#m6" x="1539.4" y="1288.8"/><use href="#m6" x="1544.1" y="1290"/><use href="#m6" x="1548.8" y="1291.2"/><use href="#m6" x="1553.5" y="1292.4"/><use href="#m6" x="1558.3" y="1293.6"/><use href="#m6" x="1563" y="1294.8"/><use href="#m6" x="1567.7" y="1296"/><use href="#m6" x="1572.4" y="1297.2"/><use href="#m6" x="1577.1" y="1298.4"/><use href="#m6" x="1581.8" y="1299.5"/><use href="#m6" x="1586.5" y="1300.7"/><use href="#m6" x="1591.3" y="1301.9"/><use href="#m6" x="1596" y="1303.1"/><use href="#m6" x="1600.7" y="1304.2"/><use href="#m6" x="1605.4" y="1305.4"/><use href="#m6" x="1610.1" y="1306.6"/><use href="#m6" x="1614.8" y="1307.7"/><use href="#m6" x="1619.6" y="1308.9"/><use href="#m6" x="1624.3" y="1310"/><use href="#m6" x="1629" y="1311.2"/><use href="#m6" x="1633.7" y="1312.3"/><use href="#m6" x="1638.4" y="1313.4"/><use href="#m6" x="1643.1" y="1314.6"/><use href="#m6" x="1647.8" y="1315.7"/><use href="#m6" x="1652.6" y="1316.8"/><use href="#m6" x="1657.3" y="1318"/><use href="#m6" x="1662" y="1319.1"/><use href="#m6" x="1666.7" y="1320.2"/><use href="#m6" x="1671.4" y="1321.3"/><use href="#m6" x="1676.1" y="1322.5"/><use href="#m6" x="1680.8" y="1323.6"/><use href="#m6" x="1685.6" y="1324.7"/><use href="#m6" x="1690.3" y="1325.8"/><use href="#m6" x="1695" y="1326.9"/><use href="#m6" x="1699.7" y="1328"/><use href="#m6" x="1704.4" y="1329.1"/><use href="#m6" x="1709.1" y="1330.2"/><use href="#m6" x="1713.8" y="1331.3"/><use href="#m6" x="1718.6" y="1332.4"/><use href="#m6" x="1723.3" y="1333.4"/><use href="#m6" x="1728" y="1334.5"/><use href="#m6" x="1732.7" y="1335.6"/><use href="#m6" x="1737.4" y="1336.7"/><use href="#m6" x="1742.1" y="1337.7"/><use href="#m6" x="1746.8" y="1338.8"/><use href="#m6" x="1751.6" y="1339.9"/><use href="#m6" x="1756.3" y="1341"/><use href="#m6" x="1761" y="1342"/><use href="#m6" x="1765.7" y="1343.1"/><use href="#m6" x="1770.4" y="1344.1"/><use href="#m6" x="1775.1" y="1345.2"/><use href="#m6" x="1779.8" y="1346.2"/><use href="#m6" x="1784.6" y="1347.3"/><use href="#m6" x="1789.3" y="1348.3"/><use href="#m6" x="1794" y="1349.4"/><use href="#m6" x="1798.7" y="1350.4"/><use href="#m6" x="1803.4" y="1351.5"/><use href="#m6" x="1808.1" y="1352.5"/><use href="#m6" x="1812.8" y="1353.5"/><use href="#m6" x="1817.6" y="1354.6"/><use href="#m6" x="1822.3" y="1355.6"/><use href="#m6" x="1827" y="1356.6"/><use href="#m6" x="1831.7" y="1357.6"/><use href="#m6" x="1836.4" y="1358.6"/><use href="#m6" x="1841.1" y="1359.7"/><use href="#m6" x="1845.8" y="1360.7"/><use href="#m6" x="1850.6" y="1361.7"/><use href="#m6" x="1855.3" y="1362.7"/><use href="#m6" x="1860" y="1363.7"/><use href="#m6" x="1864.7" y="1364.7"/><use href="#m6" x="1869.4" y="1365.7"/><use href="#m6" x="1874.1" y="1366.7"/><use href="#m6" x="1878.8" y="1367.7"/><use href="#m6" x="1883.6" y="1368.7"/><use href="#m6" x="1888.3" y="1369.7"/><use href="#m6" x="1893" y="1370.7"/><use href="#m6" x="1897.7" y="1371.7"/><use href="#m6" x="1902.4" y="1372.7"/><use href="#m6" x="1907.1" y="1373.6"/><use href="#m6" x="1911.9" y="1374.6"/><use href="#m6" x="1916.6" y="1375.6"/><use href="#m6" x="1921.3" y="1376.6"/><use href="#m6" x="1926" y="1377.5"/><use href="#m6" x="1930.7" y="1378.5"/><use href="#m6" x="1935.4" y="1379.5"/><use href="#m6" x="1940.1" y="1380.5"/><use href="#m6" x="1944.9" y="1381.4"/><use href="#m6" x="1949.6" y="1382.4"/><use href="#m6" x="1954.3" y="1383.3"/><use href="#m6" x="1959" y="1384.3"/><use href="#m6" x="1963.7" y="1385.2"/><use href="#m6" x="1968.4" y="1386.2"/><use href="#m6" x="1973.1" y="1387.2"/><use href="#m6" x="1977.9" y="1388.1"/><use href="#m6" x="1982.6" y="1389"/><use href="#m6" x="1987.3" y="1390"/><use href="#m6" x="1992" y="1390.9"/><use href="#m6" x="1996.7" y="1391.9"/><use href="#m6" x="2001.4" y="1392.8"/><use href="#m6" x="2006.1" y="1393.7"/><use href="#m6" x="2010.9" y="1394.7"/><use href="#m6" x="2015.6" y="1395.6"/><use href="#m6" x="2020.3" y="1396.5"/><use href="#m6" x="2025" y="1397.5"/><use href="#m6" x="2029.7" y="1398.4"/><use href="#m6" x="2034.4" y="1399.3"/>
</g>
<g stroke="#000" stroke-width="5.5" fill="none">
<rect x="215" y="47.6" width="1871" height="1397.4"/>
<path d="M263 1445V1419M454.9 1445V1419M646.8 1445V1419M838.7 1445V1419M1030.6 1445V1419M1222.5 1445V1419M1414.4 1445V1419M1606.3 1445V1419M1798.2 1445V1419M1990.1 1445V1419M326.9 1445V1432M390.9 1445V1432M518.8 1445V1432M582.8 1445V1432M710.7 1445V1432M774.7 1445V1432M902.6 1445V1432M966.6 1445V1432M1094.5 1445V1432M1158.5 1445V1432M1286.4 1445V1432M1350.4 1445V1432M1478.3 1445V1432M1542.3 1445V1432M1670.2 1445V1432M1734.2 1445V1432M1862.1 1445V1432M1926.1 1445V1432M2054 1445V1432M215 1305.3H242.5M215 1165.5H242.5M215 1025.8H242.5M215 886H242.5M215 746.3H242.5M215 606.6H242.5M215 466.8H242.5M215 327.1H242.5M215 187.3H242.5M215 1398.4H228M215 1351.8H228M215 1258.7H228M215 1212.1H228M215 1118.9H228M215 1072.4H228M215 979.2H228M215 932.6H228M215 839.5H228M215 792.9H228M215 699.7H228M215 653.1H228M215 560H228M215 513.4H228M215 420.2H228M215 373.7H228M215 280.5H228M215 233.9H228M215 140.8H228M215 94.2H228"/>
</g>
<g font-size="61" text-anchor="end">
<text transform="translate(183 1462.3) scale(0.94 1)">63</text>
<text transform="translate(183 1322.6) scale(0.94 1)">66</text>
<text transform="translate(183 1182.8) scale(0.94 1)">69</text>
<text transform="translate(183 1043.1) scale(0.94 1)">72</text>
<text transform="translate(183 903.3) scale(0.94 1)">75</text>
<text transform="translate(183 763.6) scale(0.94 1)">78</text>
<text transform="translate(183 623.9) scale(0.94 1)">81</text>
<text transform="translate(183 484.1) scale(0.94 1)">84</text>
<text transform="translate(183 344.4) scale(0.94 1)">87</text>
<text transform="translate(183 204.6) scale(0.94 1)">90</text>
<text transform="translate(183 64.9) scale(0.94 1)">93</text>
</g>
<g font-size="61" text-anchor="middle">
<text transform="translate(263.3 1519.6) scale(0.95 1)">8</text>
<text transform="translate(455.2 1519.6) scale(0.95 1)">12</text>
<text transform="translate(647.1 1519.6) scale(0.95 1)">16</text>
<text transform="translate(839 1519.6) scale(0.95 1)">20</text>
<text transform="translate(1030.9 1519.6) scale(0.95 1)">24</text>
<text transform="translate(1222.8 1519.6) scale(0.95 1)">28</text>
<text transform="translate(1414.7 1519.6) scale(0.95 1)">32</text>
<text transform="translate(1606.6 1519.6) scale(0.95 1)">36</text>
<text transform="translate(1798.5 1519.6) scale(0.95 1)">40</text>
<text transform="translate(1990.4 1519.6) scale(0.95 1)">44</text>
</g>
<text x="414.8" y="1616.8" font-size="72.3">Distance of cislunar spacecraft from Earth/ 10<tspan font-size="49" dy="-30">4</tspan><tspan dy="30"> km</tspan></text>
<text transform="translate(92.7 1280.5) rotate(-90)" font-size="72.4">Carrier-to-noise ratio(C/N<tspan dy="20">0</tspan><tspan dy="-20">)/dB-HZ</tspan></text>
<g font-size="61.3">
<path d="M1687.3 96.2H1737.5M1775 96.2H1824.7" stroke="#1ed81e" stroke-width="1.7" fill="none"/>
<use href="#k0" x="1753.8" y="96.1"/>
<text x="1837.6" y="117.4">D = 35 m</text>
<path d="M1687.3 171.4H1737.5M1775 171.4H1824.7" stroke="#1ee8e8" stroke-width="1.7" fill="none"/>
<use href="#k1" x="1753.8" y="171.3"/>
<text x="1837.6" y="192.6">D = 30 m</text>
<path d="M1687.3 246.6H1737.5M1775 246.6H1824.7" stroke="#ee8218" stroke-width="1.7" fill="none"/>
<use href="#k2" x="1753.8" y="246.5"/>
<text x="1837.6" y="267.8">D = 25 m</text>
<path d="M1687.3 321.8H1737.5M1775 321.8H1824.7" stroke="#dcdc00" stroke-width="1.7" fill="none"/>
<use href="#k3" x="1753.8" y="321.7"/>
<text x="1837.6" y="343">D = 20 m</text>
<path d="M1687.3 397H1737.5M1775 397H1824.7" stroke="#7a14e6" stroke-width="1.7" fill="none"/>
<use href="#k4" x="1753.8" y="396.9"/>
<text x="1837.6" y="418.2">D = 15 m</text>
<path d="M1687.3 472.2H1737.5M1775 472.2H1824.7" stroke="#cc9090" stroke-width="1.7" fill="none"/>
<use href="#k5" x="1753.8" y="472.1"/>
<text x="1837.6" y="493.4">D = 12 m</text>
<path d="M1687.3 547.4H1737.5M1775 547.4H1824.7" stroke="#14c6c6" stroke-width="1.7" fill="none"/>
<use href="#k6" x="1753.8" y="547.3"/>
<text x="1837.6" y="568.6">D = 10 m</text>
</g>
</svg></body></html>
